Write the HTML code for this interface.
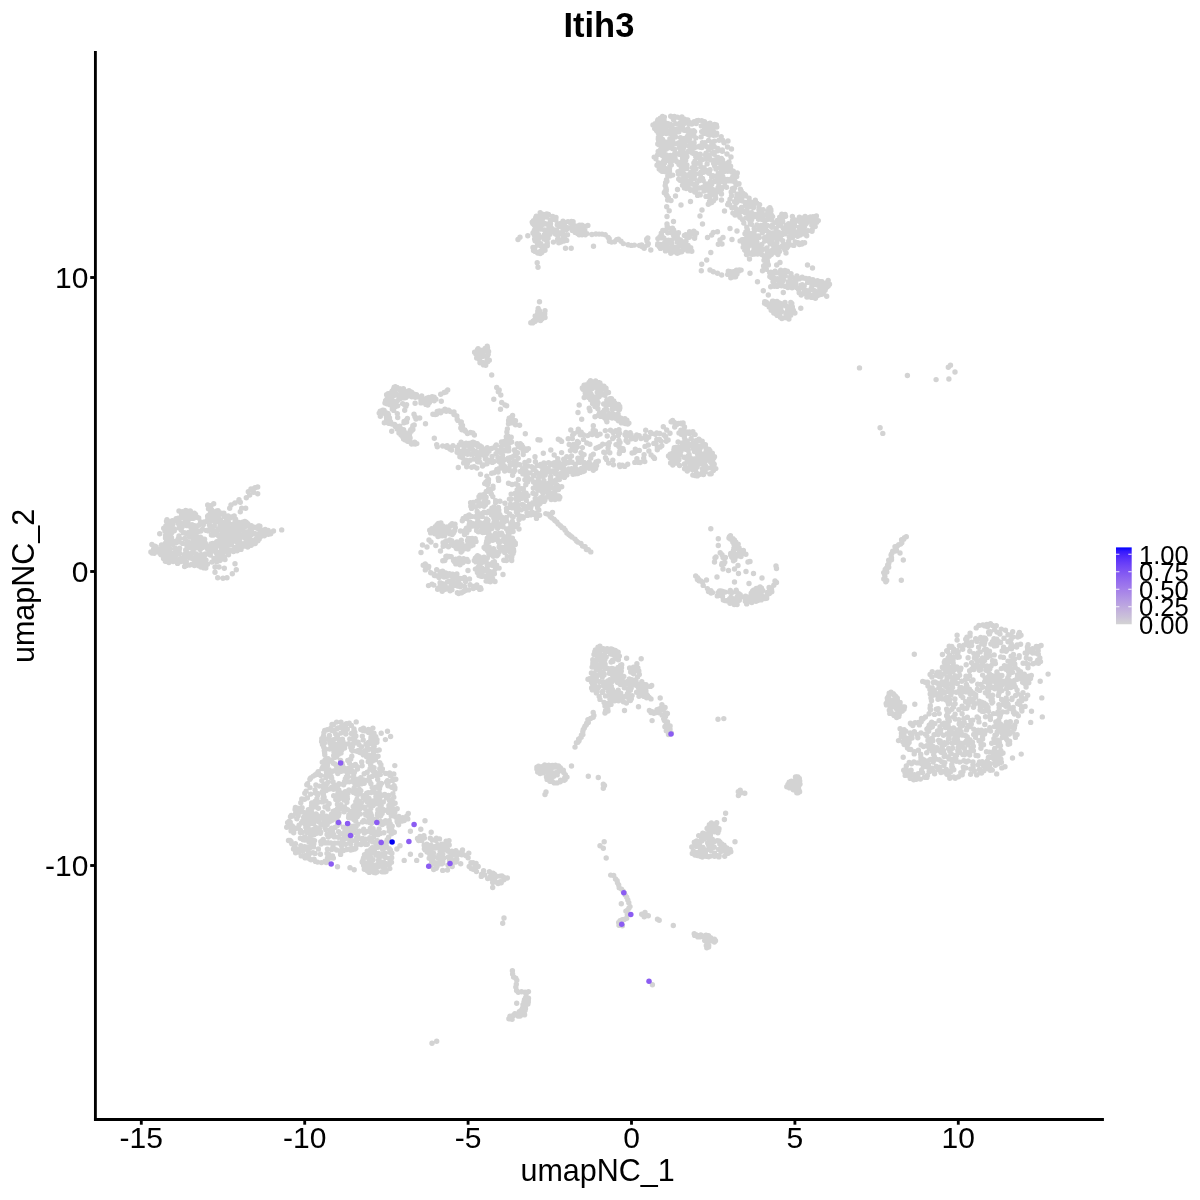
<!DOCTYPE html>
<html><head><meta charset="utf-8"><style>
html,body{margin:0;padding:0;background:#fff;}
svg{display:block;will-change:transform;}
text{font-family:"Liberation Sans",sans-serif;fill:#000;}
</style></head><body>
<svg width="1200" height="1200" viewBox="0 0 1200 1200">
<rect width="1200" height="1200" fill="#fff"/>
<path d="M662.5 116.4h0M670.7 116.3h0M664.4 117.1h0M672.6 117.4h0M674.4 116.5h0M675.5 117.1h0M677.4 117.1h0M681.9 116.9h0M660.3 118.2h0M679.8 118.0h0M681.6 119.1h0M684.0 119.0h0M658.0 119.7h0M664.0 120.0h0M673.6 119.8h0M686.3 120.0h0M687.8 120.0h0M698.4 120.5h0M657.5 121.0h0M696.9 120.7h0M701.7 120.6h0M659.9 121.8h0M682.7 121.7h0M684.1 121.9h0M685.7 122.2h0M694.1 121.7h0M704.5 121.8h0M659.1 123.1h0M660.7 122.8h0M665.9 123.1h0M679.9 123.3h0M681.9 123.0h0M690.5 122.9h0M693.4 123.0h0M710.0 123.2h0M655.1 123.6h0M668.1 123.7h0M670.5 124.5h0M675.7 123.6h0M678.1 124.2h0M680.9 124.2h0M683.6 124.1h0M688.8 124.1h0M691.9 124.1h0M696.2 123.5h0M707.8 124.0h0M714.6 124.5h0M653.0 125.0h0M659.0 124.7h0M664.1 125.5h0M716.4 124.9h0M669.7 125.8h0M701.3 125.9h0M706.1 126.1h0M708.2 125.6h0M710.2 126.0h0M713.5 126.4h0M656.3 126.7h0M661.4 127.1h0M663.8 126.8h0M671.9 126.6h0M680.6 127.3h0M707.4 126.7h0M711.2 126.8h0M716.8 127.0h0M665.4 128.2h0M682.7 127.9h0M654.7 128.6h0M659.4 129.1h0M676.3 129.4h0M687.9 128.9h0M704.6 129.0h0M656.5 130.4h0M664.4 130.5h0M672.0 130.0h0M674.9 129.5h0M684.1 130.2h0M708.8 130.0h0M712.3 130.2h0M661.0 131.4h0M662.3 131.3h0M667.9 130.6h0M691.2 131.0h0M693.6 130.6h0M713.3 131.1h0M666.9 132.1h0M674.1 131.7h0M678.9 131.8h0M687.8 131.6h0M691.6 132.4h0M693.2 132.3h0M694.6 131.6h0M701.7 131.6h0M704.9 131.6h0M658.2 132.7h0M660.4 133.3h0M662.7 133.4h0M670.0 133.4h0M704.7 133.2h0M710.6 133.1h0M716.7 133.3h0M666.3 133.5h0M674.9 134.4h0M707.6 134.2h0M660.8 135.3h0M672.3 135.3h0M689.1 134.7h0M690.0 135.4h0M693.8 135.4h0M709.4 135.3h0M713.6 135.2h0M716.1 135.1h0M687.6 136.2h0M658.4 137.2h0M673.1 137.0h0M675.5 136.9h0M701.1 136.9h0M721.2 136.6h0M680.5 137.6h0M684.4 138.4h0M686.6 138.4h0M689.8 138.2h0M695.8 137.9h0M658.3 139.0h0M662.6 139.4h0M669.9 138.6h0M658.6 140.3h0M672.7 139.9h0M682.5 140.3h0M684.7 139.9h0M688.4 139.6h0M708.6 140.4h0M719.1 140.2h0M722.6 140.3h0M669.2 141.5h0M681.2 140.8h0M714.4 141.3h0M728.0 141.0h0M660.6 141.9h0M662.0 141.6h0M663.8 141.7h0M666.0 142.2h0M672.7 141.6h0M685.7 141.6h0M712.6 141.9h0M670.0 143.2h0M678.4 143.0h0M681.2 142.7h0M690.7 143.0h0M694.1 142.8h0M702.4 142.8h0M705.0 142.6h0M724.0 142.8h0M657.8 144.0h0M667.9 143.5h0M675.3 143.7h0M685.2 143.9h0M703.6 143.5h0M711.8 144.2h0M658.9 144.7h0M660.5 145.3h0M666.6 144.6h0M705.0 144.7h0M669.6 146.2h0M671.2 146.4h0M682.6 146.4h0M688.7 146.1h0M691.9 146.1h0M699.3 146.2h0M714.2 146.5h0M662.1 146.6h0M696.1 146.9h0M700.2 147.2h0M707.1 146.7h0M711.5 147.3h0M727.5 147.0h0M670.3 147.7h0M679.3 147.6h0M683.6 147.7h0M694.4 147.7h0M701.9 147.6h0M717.8 148.4h0M666.4 149.0h0M672.9 148.8h0M680.5 149.1h0M690.7 148.8h0M692.3 149.0h0M708.7 149.3h0M731.5 149.0h0M660.8 149.6h0M674.7 149.5h0M722.3 149.9h0M658.2 151.5h0M662.2 151.4h0M664.1 151.0h0M688.0 151.5h0M692.1 151.0h0M717.7 150.7h0M722.3 151.3h0M680.5 152.3h0M690.9 152.0h0M713.6 152.3h0M683.4 152.5h0M684.6 152.9h0M692.3 152.9h0M695.9 153.4h0M706.0 153.3h0M712.4 152.9h0M664.7 154.2h0M674.8 153.5h0M676.0 153.5h0M679.1 154.3h0M694.0 153.8h0M700.2 154.3h0M714.2 154.3h0M727.0 154.0h0M657.7 154.8h0M662.3 155.5h0M666.4 154.9h0M670.4 155.4h0M681.3 154.7h0M686.1 154.8h0M705.4 154.9h0M709.1 154.9h0M664.0 155.9h0M669.2 156.2h0M674.7 156.2h0M682.7 155.7h0M695.7 156.5h0M700.0 155.8h0M654.2 157.1h0M665.7 156.9h0M686.9 156.8h0M709.3 157.1h0M717.9 157.4h0M731.0 157.0h0M664.2 157.6h0M668.4 158.1h0M673.1 158.4h0M675.1 158.4h0M682.6 158.1h0M696.6 157.5h0M655.9 158.8h0M665.1 159.3h0M671.1 158.7h0M706.1 159.0h0M708.7 158.6h0M721.4 158.5h0M667.1 160.3h0M683.9 159.8h0M685.7 160.3h0M700.5 159.7h0M702.7 159.6h0M710.9 159.9h0M715.3 159.7h0M718.0 160.4h0M722.5 159.9h0M671.7 161.0h0M694.9 161.3h0M663.3 161.5h0M670.2 162.0h0M676.7 161.5h0M677.7 162.3h0M680.1 162.5h0M681.5 161.6h0M684.5 162.2h0M713.7 161.7h0M729.0 162.0h0M658.5 162.9h0M664.5 162.9h0M693.9 163.0h0M696.9 163.2h0M700.1 163.3h0M713.7 163.4h0M720.0 163.0h0M722.8 162.6h0M727.4 163.3h0M661.3 164.0h0M680.1 164.2h0M707.1 163.9h0M715.4 163.5h0M723.8 164.4h0M657.0 165.2h0M663.6 164.6h0M671.3 165.1h0M679.0 164.6h0M686.9 164.9h0M721.2 164.8h0M669.8 166.1h0M683.5 165.6h0M714.7 165.9h0M728.2 165.7h0M730.6 166.2h0M694.3 166.7h0M701.0 166.7h0M660.2 167.8h0M664.9 168.3h0M681.3 168.2h0M692.3 167.6h0M704.1 168.0h0M719.7 167.7h0M726.5 168.0h0M659.2 169.0h0M661.8 169.2h0M669.5 168.6h0M686.9 168.5h0M693.1 168.8h0M696.0 168.8h0M715.9 169.0h0M721.0 169.0h0M722.7 168.5h0M728.7 169.1h0M660.6 170.3h0M664.3 170.3h0M683.0 170.0h0M710.1 169.6h0M723.7 170.5h0M731.1 170.2h0M662.0 171.2h0M663.3 171.2h0M667.1 171.0h0M669.5 170.9h0M707.0 170.6h0M724.4 171.5h0M727.8 171.3h0M730.0 171.1h0M733.3 171.3h0M666.2 172.1h0M678.0 171.6h0M679.6 171.6h0M694.3 171.6h0M701.1 172.0h0M703.6 172.3h0M707.3 171.9h0M709.3 172.0h0M720.9 172.1h0M732.1 172.3h0M690.8 172.5h0M708.8 173.2h0M734.6 172.7h0M737.3 172.9h0M667.9 173.6h0M678.5 174.0h0M681.8 174.3h0M684.0 173.8h0M689.8 173.6h0M699.1 173.7h0M718.2 173.6h0M672.7 175.1h0M685.0 174.8h0M692.2 175.2h0M694.4 175.4h0M700.4 174.8h0M718.5 174.8h0M734.7 175.2h0M667.8 176.0h0M670.4 175.7h0M687.3 176.2h0M690.8 176.4h0M712.9 175.7h0M715.7 176.1h0M722.7 176.4h0M736.7 176.4h0M711.7 177.0h0M717.7 177.5h0M732.7 176.9h0M684.6 178.1h0M694.3 178.4h0M702.5 178.4h0M722.9 178.1h0M678.7 179.1h0M699.8 179.4h0M721.2 179.4h0M724.9 179.3h0M727.7 179.4h0M730.6 179.2h0M666.5 179.8h0M680.0 180.2h0M681.5 179.8h0M691.2 180.1h0M666.9 181.2h0M688.1 181.4h0M699.1 180.8h0M703.2 180.6h0M710.6 181.3h0M715.7 181.0h0M717.3 180.9h0M721.5 181.2h0M725.4 181.4h0M729.2 180.9h0M732.3 181.0h0M735.0 181.1h0M686.1 182.4h0M714.6 181.6h0M665.6 182.8h0M683.7 183.3h0M690.3 182.7h0M696.6 183.2h0M724.7 182.7h0M735.5 182.7h0M693.2 184.2h0M707.1 184.0h0M711.6 184.5h0M737.5 184.2h0M739.0 183.8h0M682.5 185.3h0M684.1 185.4h0M705.3 184.5h0M718.8 185.3h0M665.2 185.6h0M688.1 185.6h0M695.8 185.8h0M705.8 185.7h0M724.7 186.1h0M703.0 187.2h0M726.5 187.2h0M666.0 188.3h0M684.4 187.9h0M686.2 188.5h0M699.5 188.0h0M704.2 187.6h0M707.6 188.2h0M709.3 188.0h0M717.9 187.9h0M721.7 187.9h0M734.6 187.7h0M689.4 188.6h0M694.3 189.1h0M732.3 188.7h0M740.4 189.1h0M666.3 189.6h0M677.5 189.5h0M690.6 190.3h0M695.7 190.0h0M707.0 190.1h0M712.8 189.5h0M714.5 190.4h0M721.3 189.8h0M733.5 190.3h0M666.2 190.9h0M704.0 191.1h0M716.1 191.0h0M718.1 190.9h0M719.5 190.8h0M741.2 190.9h0M665.0 191.5h0M694.8 192.1h0M710.0 192.1h0M714.0 192.4h0M717.2 192.0h0M731.2 191.9h0M664.3 192.8h0M743.2 193.4h0M699.2 193.9h0M721.5 194.0h0M736.9 194.3h0M738.2 194.2h0M666.5 195.0h0M697.6 195.4h0M700.2 194.9h0M709.9 194.8h0M713.1 194.8h0M745.1 194.7h0M667.2 196.0h0M675.5 196.0h0M706.0 196.4h0M708.8 196.0h0M715.3 195.7h0M731.5 195.8h0M737.2 195.7h0M745.7 195.8h0M709.6 197.3h0M738.4 196.8h0M742.5 196.5h0M668.5 198.0h0M715.7 198.2h0M736.5 198.1h0M749.1 198.1h0M730.0 199.1h0M667.7 200.0h0M671.0 200.5h0M721.5 200.0h0M739.8 200.1h0M755.3 200.2h0M709.5 201.5h0M713.5 200.8h0M741.9 200.8h0M749.1 201.4h0M690.5 201.5h0M711.7 202.5h0M734.6 201.8h0M737.2 201.8h0M750.5 202.0h0M710.2 202.9h0M728.6 202.9h0M736.1 203.1h0M745.1 202.5h0M754.5 202.5h0M756.9 203.1h0M708.3 204.2h0M745.4 203.8h0M681.0 205.0h0M727.7 204.6h0M729.7 204.9h0M753.4 204.6h0M759.6 204.6h0M746.2 206.1h0M747.9 206.0h0M753.7 205.9h0M666.7 206.7h0M734.8 206.9h0M741.5 207.4h0M749.1 206.9h0M731.9 207.7h0M753.4 207.8h0M759.0 207.9h0M769.9 207.7h0M736.5 209.2h0M768.8 208.8h0M770.8 209.5h0M702.0 210.0h0M740.7 210.3h0M746.6 210.1h0M758.9 209.8h0M763.1 209.6h0M669.2 210.8h0M724.5 211.0h0M742.4 211.3h0M767.8 211.1h0M770.9 210.9h0M736.6 211.6h0M744.9 212.5h0M746.8 211.7h0M761.8 212.2h0M540.2 212.6h0M732.9 213.1h0M735.9 212.9h0M749.5 212.9h0M751.4 212.7h0M758.8 213.3h0M541.2 214.1h0M543.3 214.5h0M546.7 213.9h0M748.3 214.0h0M754.7 214.5h0M781.8 214.3h0M785.1 214.4h0M545.7 215.4h0M548.5 214.5h0M735.0 215.0h0M738.0 215.0h0M739.2 215.4h0M758.3 214.8h0M762.3 214.7h0M764.4 214.6h0M769.1 215.5h0M771.5 215.1h0M536.3 216.3h0M552.7 216.4h0M667.0 216.5h0M700.0 216.0h0M749.1 215.6h0M752.4 215.7h0M755.8 215.5h0M785.6 216.2h0M792.4 216.4h0M805.1 216.4h0M816.4 215.9h0M540.3 216.6h0M547.1 217.1h0M556.0 217.5h0M740.0 217.3h0M753.9 216.8h0M772.6 216.6h0M779.7 217.1h0M782.2 216.5h0M783.6 216.9h0M799.4 217.3h0M810.4 217.0h0M813.0 216.6h0M535.6 217.9h0M543.2 217.7h0M745.9 217.9h0M768.1 217.7h0M801.4 217.9h0M804.4 217.6h0M806.9 217.8h0M816.0 218.0h0M538.0 218.8h0M540.4 219.2h0M542.4 219.1h0M748.8 218.9h0M758.5 219.2h0M761.5 219.3h0M768.1 219.3h0M811.5 219.2h0M536.0 220.5h0M550.4 220.3h0M552.2 219.6h0M555.8 220.0h0M742.4 219.6h0M751.6 219.8h0M763.7 219.6h0M771.6 219.7h0M777.3 220.4h0M795.0 219.9h0M803.4 220.3h0M807.4 220.4h0M533.5 220.8h0M563.0 221.2h0M750.1 220.8h0M779.3 221.5h0M782.7 221.5h0M792.5 220.8h0M797.1 220.8h0M804.9 221.3h0M809.4 221.0h0M815.7 220.8h0M818.3 220.6h0M532.2 222.1h0M568.0 221.6h0M571.5 221.5h0M573.1 221.8h0M673.5 221.5h0M794.2 222.4h0M800.5 222.2h0M811.1 221.8h0M816.8 222.2h0M532.8 223.4h0M538.0 223.5h0M543.9 223.2h0M570.1 222.6h0M743.8 223.0h0M750.3 223.0h0M764.8 223.3h0M774.9 222.6h0M801.4 223.0h0M813.0 223.3h0M541.7 224.2h0M543.2 224.3h0M546.6 224.0h0M550.5 223.6h0M559.8 223.8h0M561.0 224.1h0M564.4 223.6h0M573.2 223.9h0M667.0 224.0h0M702.5 224.0h0M751.4 224.2h0M778.5 223.9h0M788.6 223.8h0M790.4 223.7h0M794.4 224.1h0M806.3 223.5h0M534.1 224.7h0M557.3 224.7h0M579.5 225.2h0M582.0 225.2h0M587.9 225.4h0M756.9 224.9h0M761.0 225.5h0M767.3 225.4h0M772.3 225.2h0M786.4 225.2h0M811.8 225.3h0M537.2 226.2h0M539.5 225.7h0M550.3 225.6h0M560.1 226.2h0M564.4 226.3h0M577.7 226.0h0M582.9 226.3h0M585.9 226.3h0M667.2 226.0h0M764.6 225.9h0M780.8 225.8h0M791.8 226.1h0M794.7 226.2h0M804.7 226.3h0M584.3 227.4h0M746.8 227.2h0M762.3 226.6h0M771.8 227.3h0M787.1 226.9h0M790.0 227.5h0M799.3 227.3h0M803.3 226.8h0M815.2 226.6h0M535.3 228.3h0M548.9 228.0h0M562.9 228.5h0M567.6 227.7h0M569.3 227.8h0M572.5 227.7h0M668.1 227.7h0M672.5 228.2h0M730.0 228.5h0M754.2 228.5h0M763.3 227.8h0M776.2 228.5h0M783.3 228.2h0M793.4 227.8h0M539.5 229.1h0M541.5 229.1h0M552.1 228.8h0M576.5 229.3h0M759.1 229.5h0M534.4 230.2h0M544.5 230.0h0M548.2 230.2h0M550.0 229.6h0M554.2 230.0h0M556.6 230.0h0M566.5 229.6h0M572.3 230.4h0M581.6 229.8h0M662.8 230.5h0M665.0 230.2h0M673.6 229.9h0M747.5 230.0h0M754.8 230.3h0M764.8 230.4h0M766.5 230.5h0M776.1 229.7h0M801.4 229.8h0M804.2 230.4h0M812.2 230.0h0M536.3 231.3h0M552.0 231.4h0M556.0 231.4h0M584.8 230.5h0M672.1 230.7h0M693.8 231.3h0M737.0 231.0h0M786.9 231.5h0M789.4 231.1h0M793.7 231.0h0M805.3 231.3h0M808.0 230.8h0M812.0 231.3h0M533.9 231.8h0M547.6 231.6h0M550.4 231.9h0M553.2 231.7h0M562.8 231.7h0M575.2 232.4h0M576.5 232.0h0M579.0 232.5h0M689.6 231.8h0M713.3 232.5h0M717.5 231.7h0M746.0 231.8h0M753.9 232.4h0M768.6 232.3h0M778.5 232.2h0M788.8 232.3h0M791.1 231.9h0M797.8 231.7h0M533.0 232.9h0M536.7 233.1h0M559.9 232.9h0M661.3 233.1h0M667.8 232.7h0M671.7 232.8h0M675.5 233.0h0M678.5 232.8h0M696.5 233.1h0M762.3 232.8h0M772.3 233.0h0M776.1 232.8h0M779.1 233.2h0M782.3 233.1h0M790.2 233.2h0M804.2 232.6h0M549.9 234.3h0M555.5 234.1h0M561.6 234.1h0M577.6 233.5h0M586.9 233.6h0M595.9 234.0h0M599.1 234.1h0M602.0 234.1h0M675.6 234.4h0M745.0 233.8h0M748.4 234.5h0M750.7 233.7h0M753.4 234.2h0M770.0 234.1h0M774.1 233.6h0M777.4 233.6h0M785.0 233.9h0M794.6 234.2h0M803.9 233.8h0M534.4 235.0h0M538.6 234.6h0M544.4 234.8h0M557.7 235.5h0M563.1 235.4h0M567.5 234.7h0M579.1 234.8h0M582.1 234.7h0M585.4 234.7h0M591.9 234.5h0M605.2 234.7h0M661.5 234.7h0M673.5 235.0h0M684.4 235.4h0M685.8 234.8h0M690.1 234.6h0M711.7 235.0h0M780.3 234.8h0M782.5 234.6h0M800.2 235.0h0M527.8 235.8h0M547.6 236.3h0M677.3 236.1h0M694.8 235.9h0M748.4 236.1h0M754.1 236.0h0M756.8 236.1h0M758.4 235.9h0M768.0 236.1h0M771.0 236.3h0M797.6 236.2h0M806.7 235.7h0M520.0 237.2h0M539.9 237.0h0M564.0 237.3h0M659.9 236.7h0M662.3 236.9h0M689.3 237.3h0M746.8 236.9h0M759.2 237.4h0M765.6 237.1h0M774.6 237.1h0M789.3 237.0h0M538.9 237.7h0M548.1 238.2h0M608.2 237.5h0M647.8 238.0h0M661.1 237.9h0M663.9 238.3h0M674.0 238.1h0M686.9 237.8h0M694.6 238.3h0M707.5 237.5h0M723.0 237.5h0M749.6 238.1h0M754.4 237.6h0M764.4 237.9h0M792.4 237.6h0M534.6 239.0h0M538.3 239.5h0M544.0 239.0h0M545.3 239.5h0M557.6 239.5h0M609.2 238.8h0M618.4 239.2h0M646.7 239.2h0M657.9 238.6h0M678.1 239.1h0M745.9 238.7h0M748.6 238.8h0M751.1 239.2h0M767.1 238.7h0M772.1 239.3h0M776.7 238.7h0M780.7 239.1h0M518.0 239.5h0M560.4 239.9h0M566.7 240.4h0M616.7 239.6h0M668.5 240.1h0M671.5 240.3h0M680.4 240.0h0M720.0 240.0h0M732.0 239.5h0M742.1 239.6h0M744.0 239.5h0M752.9 240.4h0M770.2 240.3h0M535.1 240.8h0M563.9 241.1h0M609.4 241.3h0M621.0 241.2h0M647.0 241.0h0M666.8 241.3h0M681.9 241.5h0M686.0 241.2h0M740.1 240.9h0M746.9 240.7h0M764.7 241.1h0M768.9 240.8h0M782.7 240.7h0M788.7 241.1h0M547.2 242.3h0M553.4 242.1h0M560.9 242.0h0M611.6 242.1h0M614.6 241.7h0M665.5 241.7h0M668.0 241.9h0M670.7 242.1h0M677.2 242.3h0M746.8 242.0h0M754.3 241.6h0M756.9 242.0h0M795.2 242.0h0M558.8 242.7h0M664.6 242.9h0M743.4 243.1h0M751.2 242.7h0M769.8 242.6h0M776.9 242.8h0M798.0 242.8h0M802.5 242.7h0M804.6 242.7h0M537.4 243.8h0M540.7 243.6h0M547.3 243.8h0M623.3 243.6h0M648.3 243.7h0M657.8 243.6h0M660.8 244.4h0M671.7 243.8h0M718.3 244.2h0M722.0 244.0h0M744.6 243.5h0M747.9 243.7h0M761.8 244.5h0M770.3 243.7h0M773.9 243.7h0M786.8 244.5h0M799.4 244.5h0M801.9 244.0h0M538.5 245.0h0M628.1 244.7h0M631.4 245.4h0M634.4 245.1h0M639.5 245.5h0M641.7 245.0h0M647.6 245.0h0M657.6 245.1h0M666.6 245.3h0M683.5 245.3h0M688.1 245.5h0M749.9 244.8h0M751.9 245.1h0M753.6 244.7h0M756.5 245.2h0M782.9 245.3h0M790.4 244.9h0M793.8 245.4h0M541.4 246.2h0M543.0 246.0h0M545.5 246.0h0M547.3 245.8h0M593.5 246.2h0M679.8 245.8h0M773.8 246.2h0M784.6 246.0h0M642.3 246.8h0M644.3 247.0h0M659.4 246.7h0M662.0 247.3h0M663.5 247.4h0M671.7 246.7h0M674.9 247.4h0M683.8 247.3h0M743.2 247.2h0M748.2 246.6h0M754.4 247.1h0M758.5 246.6h0M776.7 247.4h0M781.6 246.5h0M783.5 247.4h0M787.4 246.9h0M533.0 247.5h0M534.7 247.8h0M565.5 248.2h0M571.2 248.2h0M644.2 248.3h0M660.5 248.4h0M668.6 248.0h0M676.5 247.6h0M684.7 248.5h0M690.7 247.8h0M744.9 248.4h0M757.2 248.4h0M767.0 248.0h0M778.9 247.8h0M786.5 248.3h0M543.9 249.5h0M673.0 248.7h0M689.2 249.4h0M747.4 249.0h0M754.0 249.3h0M765.6 249.0h0M774.0 249.5h0M777.1 248.9h0M784.5 248.6h0M545.0 250.3h0M650.8 250.0h0M667.9 249.8h0M682.9 250.1h0M744.7 249.9h0M758.0 250.0h0M762.6 249.5h0M772.5 249.9h0M784.9 249.8h0M533.5 250.6h0M535.1 251.4h0M541.6 250.6h0M665.5 250.9h0M672.9 250.6h0M679.5 251.1h0M687.9 250.9h0M689.6 250.7h0M691.8 251.2h0M745.7 250.7h0M768.0 251.2h0M774.2 250.8h0M539.1 252.0h0M670.5 251.7h0M673.9 251.9h0M675.6 252.0h0M681.7 251.8h0M710.8 252.5h0M752.5 252.4h0M754.4 251.7h0M770.8 251.8h0M777.9 251.5h0M779.4 251.5h0M537.7 253.1h0M541.8 252.6h0M670.8 253.2h0M677.3 253.4h0M678.5 252.7h0M748.5 253.3h0M749.9 253.3h0M755.9 253.3h0M761.1 252.9h0M767.4 253.1h0M776.2 252.8h0M786.0 253.0h0M540.2 253.5h0M746.5 254.5h0M752.4 254.2h0M754.5 254.0h0M757.6 254.1h0M761.9 254.4h0M771.3 254.4h0M778.0 254.5h0M764.0 256.0h0M769.2 256.3h0M749.5 259.0h0M706.7 260.0h0M764.0 260.3h0M765.6 259.8h0M767.3 260.4h0M766.3 262.2h0M780.0 262.5h0M537.2 262.8h0M767.6 262.6h0M701.7 264.2h0M765.3 264.1h0M768.4 264.9h0M776.7 265.0h0M807.5 265.0h0M763.6 265.9h0M538.0 267.2h0M812.5 268.0h0M766.3 269.2h0M710.0 270.0h0M736.4 270.1h0M739.3 269.9h0M741.1 270.1h0M780.7 270.3h0M784.9 270.4h0M701.3 270.8h0M728.3 271.2h0M738.6 271.2h0M762.5 270.8h0M775.1 271.2h0M782.1 271.4h0M787.4 271.2h0M713.3 271.7h0M730.5 271.8h0M731.8 272.3h0M733.4 271.7h0M734.8 271.5h0M737.2 271.9h0M770.8 272.2h0M773.0 272.4h0M785.3 272.1h0M717.5 273.3h0M750.0 273.3h0M769.7 272.8h0M776.8 272.8h0M783.7 273.1h0M727.7 274.4h0M732.5 273.7h0M734.7 274.2h0M737.0 273.9h0M773.1 273.8h0M780.7 274.3h0M791.0 273.8h0M721.7 275.0h0M785.2 275.8h0M796.9 275.9h0M731.9 276.8h0M733.8 276.9h0M735.6 276.7h0M769.8 276.6h0M773.5 277.5h0M789.9 277.5h0M791.5 276.7h0M796.5 277.5h0M802.2 277.1h0M730.8 277.8h0M771.1 277.5h0M781.0 277.6h0M803.1 278.1h0M777.2 278.8h0M783.8 279.3h0M795.3 279.0h0M799.3 278.9h0M805.9 278.5h0M809.1 278.6h0M774.4 280.2h0M778.9 279.9h0M809.0 280.3h0M812.9 279.8h0M782.7 281.0h0M789.9 280.6h0M795.9 280.8h0M816.1 281.3h0M817.5 280.6h0M828.2 280.5h0M757.5 281.7h0M773.0 281.8h0M788.3 282.0h0M792.8 282.2h0M807.6 282.4h0M811.5 282.3h0M814.9 281.8h0M820.5 281.7h0M822.0 281.7h0M827.1 282.4h0M779.6 283.2h0M781.5 282.9h0M791.3 283.2h0M774.4 283.8h0M788.8 284.3h0M795.8 283.6h0M829.5 284.2h0M776.5 284.8h0M801.1 285.2h0M802.2 284.7h0M813.2 284.8h0M817.1 284.9h0M821.2 284.9h0M824.2 285.5h0M774.2 286.3h0M777.1 286.4h0M781.5 285.8h0M784.9 286.2h0M788.3 285.9h0M789.8 285.6h0M795.2 285.9h0M804.2 285.8h0M811.9 286.0h0M821.8 286.3h0M828.2 286.0h0M770.7 286.8h0M789.2 286.7h0M796.5 287.5h0M827.2 286.8h0M787.9 287.5h0M792.1 287.8h0M803.0 288.0h0M811.7 287.5h0M819.8 288.3h0M824.6 288.3h0M825.9 287.9h0M798.6 289.4h0M804.2 289.2h0M810.9 289.2h0M820.8 289.5h0M823.0 289.6h0M825.2 289.9h0M763.3 290.8h0M805.6 291.0h0M806.9 290.8h0M814.6 290.8h0M823.9 291.4h0M783.3 292.5h0M816.6 292.0h0M820.9 291.7h0M799.2 292.7h0M804.9 293.2h0M801.2 293.7h0M809.0 293.8h0M817.0 294.1h0M821.1 294.4h0M823.2 293.8h0M768.3 295.0h0M801.2 295.1h0M814.0 294.8h0M819.4 294.8h0M812.5 295.5h0M817.4 295.7h0M826.7 296.3h0M806.9 297.0h0M809.6 296.8h0M811.7 297.4h0M813.7 297.3h0M815.4 296.8h0M815.4 298.3h0M772.5 301.1h0M773.9 301.4h0M777.0 301.4h0M539.5 301.8h0M764.7 301.6h0M766.3 302.2h0M775.2 301.9h0M785.0 302.4h0M790.8 302.5h0M764.5 303.2h0M773.6 302.8h0M778.8 302.7h0M766.3 304.2h0M768.0 303.8h0M772.4 303.8h0M776.0 304.4h0M780.4 303.8h0M781.6 304.0h0M783.5 304.4h0M791.8 303.5h0M786.0 306.0h0M790.7 305.8h0M769.2 306.9h0M792.4 307.0h0M538.2 308.5h0M770.5 307.8h0M777.9 308.5h0M780.9 307.7h0M800.8 308.3h0M773.9 308.7h0M787.7 309.1h0M791.3 309.3h0M771.2 310.3h0M777.7 310.3h0M793.3 310.1h0M537.8 311.3h0M539.4 310.7h0M545.0 310.8h0M773.1 310.6h0M780.4 311.1h0M781.6 311.4h0M774.4 312.0h0M775.8 311.8h0M780.3 312.4h0M786.5 312.5h0M790.0 312.4h0M537.7 313.5h0M539.0 313.0h0M773.8 313.1h0M792.3 313.1h0M794.9 313.0h0M542.0 314.5h0M544.7 313.7h0M775.8 313.7h0M789.0 314.4h0M777.2 315.4h0M779.9 315.4h0M786.0 314.8h0M787.5 314.7h0M790.7 315.3h0M535.2 316.0h0M537.8 316.1h0M542.4 316.2h0M544.5 315.6h0M536.1 316.9h0M780.4 317.2h0M538.7 317.7h0M539.8 318.4h0M545.0 317.5h0M785.3 317.6h0M535.4 319.4h0M541.8 319.0h0M781.9 318.5h0M788.9 319.0h0M534.3 320.3h0M537.3 319.7h0M540.5 320.5h0M533.0 321.2h0M534.9 321.5h0M530.8 322.8h0M532.6 322.9h0M487.2 346.3h0M485.1 348.4h0M487.5 347.8h0M478.1 348.7h0M477.5 349.8h0M480.5 350.3h0M482.7 350.1h0M487.5 350.2h0M483.5 351.3h0M488.6 351.4h0M474.6 352.3h0M476.1 352.1h0M481.5 353.3h0M475.9 353.9h0M477.8 353.9h0M488.2 354.3h0M476.9 355.1h0M481.2 355.2h0M483.3 355.3h0M479.2 355.8h0M482.4 356.4h0M487.5 355.6h0M476.7 358.0h0M478.3 358.0h0M487.1 357.7h0M479.5 359.4h0M487.1 360.3h0M489.3 360.3h0M482.1 362.2h0M487.7 361.8h0M480.0 362.8h0M483.2 362.9h0M483.6 364.9h0M485.7 365.3h0M950.5 365.2h0M948.3 367.3h0M859.5 367.9h0M955.0 372.0h0M491.7 375.0h0M907.4 375.5h0M948.9 379.0h0M936.1 379.6h0M590.5 380.7h0M595.6 380.9h0M592.2 382.0h0M589.1 382.5h0M598.7 382.8h0M599.9 382.9h0M593.5 383.7h0M599.9 384.2h0M584.1 385.3h0M586.5 384.7h0M590.3 385.4h0M596.7 385.4h0M598.2 384.9h0M601.0 385.4h0M588.1 385.9h0M592.0 386.2h0M603.9 386.1h0M394.2 387.2h0M395.3 386.6h0M594.3 387.1h0M596.6 386.7h0M602.8 387.5h0M604.8 387.4h0M397.0 387.5h0M496.7 387.5h0M582.3 387.9h0M592.3 388.5h0M597.3 388.0h0M606.0 388.1h0M393.5 389.3h0M396.2 388.9h0M399.2 388.7h0M400.8 389.0h0M403.4 388.8h0M583.0 389.3h0M584.8 388.6h0M604.7 389.1h0M400.0 390.3h0M404.0 390.2h0M447.7 390.0h0M499.2 390.0h0M586.0 389.6h0M587.2 389.7h0M599.4 390.3h0M606.1 390.1h0M392.1 391.2h0M393.4 391.0h0M409.0 390.7h0M590.0 390.9h0M405.4 392.2h0M409.6 391.8h0M411.6 392.1h0M444.2 392.5h0M446.0 392.0h0M498.3 391.7h0M597.2 392.2h0M600.3 391.5h0M390.4 393.1h0M401.0 393.3h0M585.2 393.0h0M608.5 392.5h0M388.1 393.7h0M389.5 394.4h0M395.8 393.9h0M406.1 394.3h0M414.2 394.2h0M440.7 394.3h0M590.8 393.6h0M604.3 393.9h0M386.6 394.8h0M403.6 394.5h0M408.8 394.6h0M416.5 394.8h0M500.8 395.0h0M587.7 394.9h0M597.9 394.5h0M600.7 395.2h0M605.0 395.3h0M392.1 396.5h0M394.0 395.6h0M402.1 395.6h0M408.9 395.8h0M421.7 395.9h0M592.1 395.7h0M398.9 396.9h0M411.8 396.8h0M413.7 396.6h0M415.3 397.3h0M417.1 396.9h0M428.8 397.5h0M432.1 396.8h0M434.2 397.1h0M591.0 396.9h0M594.1 397.3h0M599.0 396.8h0M403.0 397.9h0M404.2 397.9h0M405.9 397.6h0M427.2 398.0h0M584.2 397.5h0M588.7 397.6h0M594.7 398.4h0M386.7 399.5h0M388.8 399.2h0M390.8 398.8h0M399.9 398.8h0M421.1 399.3h0M423.0 398.8h0M435.9 399.3h0M493.8 399.2h0M609.1 399.4h0M610.1 398.6h0M611.5 398.7h0M427.8 399.7h0M590.6 399.8h0M597.1 400.0h0M606.8 400.1h0M385.6 400.7h0M392.7 400.6h0M397.6 400.6h0M421.0 400.8h0M430.4 400.6h0M434.2 400.8h0M441.3 401.3h0M613.7 400.9h0M387.3 402.3h0M390.6 401.5h0M393.6 402.3h0M423.2 402.0h0M501.7 402.5h0M593.1 402.3h0M607.6 401.9h0M385.0 403.0h0M415.1 403.3h0M421.0 402.9h0M429.4 402.6h0M598.0 402.7h0M612.8 403.2h0M615.0 403.2h0M386.9 403.7h0M402.7 403.6h0M425.9 404.4h0M428.4 403.5h0M592.6 403.5h0M595.0 403.7h0M603.7 404.0h0M608.1 404.4h0M617.0 404.4h0M618.5 404.5h0M389.8 404.7h0M394.6 404.6h0M404.9 405.3h0M406.6 404.6h0M427.8 405.1h0M505.0 405.0h0M579.2 405.0h0M597.3 404.7h0M613.8 404.5h0M392.7 406.3h0M397.7 405.8h0M405.9 406.3h0M506.7 405.8h0M612.2 405.7h0M619.7 406.4h0M395.7 406.5h0M594.9 406.6h0M596.7 406.8h0M589.2 408.3h0M606.1 408.3h0M612.5 408.0h0M614.5 408.1h0M619.8 407.9h0M392.3 409.3h0M444.9 409.1h0M500.5 409.2h0M597.9 408.8h0M612.6 409.4h0M617.2 408.7h0M382.7 410.3h0M384.1 410.5h0M393.7 410.4h0M404.7 410.3h0M446.3 409.9h0M448.6 410.3h0M604.3 410.2h0M607.1 410.0h0M619.4 409.6h0M380.2 411.1h0M437.2 411.5h0M439.4 411.0h0M442.4 411.0h0M444.3 410.6h0M446.2 411.2h0M590.0 410.8h0M384.5 411.7h0M450.4 411.6h0M454.0 411.9h0M578.0 412.5h0M602.6 412.4h0M379.2 413.1h0M383.1 412.8h0M386.6 413.0h0M387.9 413.4h0M440.7 412.8h0M599.5 413.0h0M604.0 412.8h0M385.6 414.2h0M397.3 413.6h0M414.0 414.3h0M432.9 414.2h0M436.5 414.2h0M454.0 414.5h0M603.8 414.3h0M609.7 413.9h0M612.1 414.2h0M614.0 414.5h0M618.1 413.9h0M388.5 415.0h0M435.2 414.5h0M512.6 415.4h0M598.2 415.4h0M601.8 415.4h0M380.3 416.3h0M456.8 416.0h0M600.7 416.4h0M607.1 415.9h0M615.6 416.3h0M386.5 416.8h0M397.7 417.5h0M415.0 416.7h0M511.0 417.4h0M595.0 416.7h0M618.9 417.4h0M389.5 417.9h0M419.7 418.0h0M509.2 418.3h0M512.2 417.9h0M604.6 417.8h0M607.7 417.8h0M612.1 418.1h0M621.0 418.3h0M386.6 419.2h0M407.4 418.5h0M416.0 419.0h0M457.2 419.2h0M581.7 419.2h0M605.6 418.7h0M616.4 418.8h0M621.7 419.5h0M624.9 418.8h0M388.4 419.9h0M406.7 420.0h0M457.9 420.4h0M606.4 420.2h0M617.6 419.5h0M626.9 420.3h0M672.6 420.4h0M386.9 421.3h0M389.8 420.7h0M404.1 421.4h0M508.6 420.5h0M513.7 421.1h0M515.5 420.7h0M618.5 420.7h0M619.8 420.8h0M622.2 421.2h0M390.6 421.9h0M406.6 422.0h0M461.3 422.0h0M606.9 421.7h0M627.4 422.4h0M671.1 421.8h0M674.3 422.4h0M384.3 422.7h0M388.6 423.2h0M404.0 422.7h0M460.9 423.4h0M510.6 422.7h0M512.1 422.8h0M621.5 422.9h0M622.7 422.6h0M628.9 423.1h0M678.3 423.4h0M680.9 423.2h0M683.1 422.9h0M390.3 423.6h0M392.0 424.0h0M425.5 423.7h0M508.5 423.7h0M625.1 423.6h0M627.8 424.1h0M682.1 423.9h0M394.6 424.5h0M414.2 425.0h0M462.5 425.4h0M515.5 424.8h0M519.6 425.3h0M676.5 424.7h0M395.3 426.4h0M396.5 426.2h0M399.7 426.3h0M412.9 425.6h0M593.3 425.8h0M663.3 426.7h0M674.7 427.0h0M684.5 427.0h0M400.2 427.9h0M412.5 427.7h0M460.8 428.0h0M880.1 427.7h0M397.2 428.9h0M412.9 429.5h0M507.4 428.9h0M578.3 429.2h0M400.3 430.5h0M403.6 429.6h0M410.8 429.6h0M461.9 429.7h0M464.7 429.9h0M570.8 430.0h0M593.2 430.2h0M610.5 430.2h0M619.0 429.6h0M645.7 430.2h0M666.7 430.0h0M680.9 430.2h0M391.7 431.3h0M401.8 431.3h0M410.1 431.2h0M411.3 431.3h0M465.5 431.3h0M577.9 431.5h0M595.4 430.9h0M605.3 430.6h0M615.8 430.8h0M403.6 431.7h0M404.8 432.4h0M506.9 432.0h0M581.2 432.3h0M614.7 431.8h0M681.9 431.7h0M685.3 432.2h0M686.6 432.0h0M689.2 431.9h0M692.9 431.7h0M399.0 432.9h0M402.4 432.5h0M470.5 432.5h0M472.8 432.9h0M613.1 432.5h0M619.6 433.1h0M625.9 432.5h0M630.2 432.8h0M650.6 432.5h0M656.8 433.0h0M659.7 433.4h0M670.0 433.3h0M679.0 432.9h0M689.3 433.4h0M882.8 433.4h0M407.0 434.0h0M467.5 433.5h0M525.3 433.7h0M574.1 433.6h0M590.6 433.6h0M596.7 434.4h0M600.1 434.1h0M628.8 434.5h0M651.6 433.5h0M655.3 434.3h0M681.1 434.3h0M684.8 434.4h0M693.4 433.6h0M401.0 435.1h0M402.4 435.1h0M409.5 434.5h0M474.4 435.0h0M572.7 435.1h0M580.3 434.7h0M583.4 434.6h0M592.2 434.6h0M625.0 434.8h0M631.1 434.6h0M636.7 434.9h0M664.0 434.9h0M695.1 434.6h0M402.4 436.5h0M404.0 436.0h0M508.1 436.3h0M587.7 435.6h0M597.2 435.6h0M607.2 436.0h0M618.3 435.8h0M626.4 436.4h0M639.2 435.7h0M645.2 435.7h0M409.1 436.9h0M506.3 436.6h0M511.2 437.3h0M613.6 437.2h0M648.7 437.3h0M665.7 436.7h0M684.3 437.0h0M405.4 438.5h0M410.1 437.9h0M434.3 438.3h0M509.0 437.7h0M612.7 438.5h0M633.3 437.6h0M641.0 438.5h0M691.2 438.4h0M403.6 439.0h0M558.3 439.2h0M568.2 438.8h0M572.3 438.6h0M583.5 439.4h0M631.4 438.7h0M635.5 439.2h0M656.8 439.4h0M659.4 439.3h0M684.9 439.4h0M698.9 439.1h0M405.2 439.9h0M506.2 439.9h0M538.0 439.7h0M540.0 440.0h0M560.0 440.0h0M619.0 440.4h0M626.1 440.4h0M646.2 439.8h0M668.1 440.0h0M407.6 441.2h0M408.8 441.4h0M561.6 441.4h0M577.4 441.5h0M661.1 441.1h0M666.3 441.2h0M687.0 440.9h0M696.0 440.8h0M698.0 440.7h0M700.7 440.6h0M702.2 441.2h0M410.8 442.5h0M414.7 442.3h0M461.1 442.3h0M473.0 442.2h0M501.5 441.9h0M503.5 441.8h0M508.0 441.8h0M511.6 442.0h0M620.0 442.5h0M627.8 442.3h0M678.1 441.9h0M466.1 443.2h0M468.8 443.4h0M470.8 443.2h0M474.3 442.8h0M509.1 443.2h0M578.5 442.5h0M586.8 443.0h0M609.3 442.6h0M653.8 443.4h0M682.3 443.0h0M686.5 443.3h0M687.9 443.3h0M692.8 443.3h0M411.6 444.0h0M413.9 443.9h0M415.2 444.0h0M416.8 443.6h0M463.1 444.3h0M464.7 443.7h0M473.1 443.8h0M474.3 444.4h0M477.3 443.8h0M517.2 443.8h0M520.3 443.7h0M569.2 444.5h0M573.6 444.4h0M589.9 444.3h0M602.7 444.3h0M607.4 444.3h0M656.0 443.9h0M436.7 444.7h0M459.3 445.0h0M496.3 445.0h0M502.1 444.5h0M505.9 444.8h0M521.8 445.2h0M575.0 445.3h0M616.0 444.6h0M648.3 445.0h0M684.4 445.4h0M696.2 444.8h0M705.4 444.7h0M442.7 446.0h0M447.1 445.8h0M453.0 445.8h0M464.4 446.4h0M479.8 445.6h0M495.1 446.4h0M600.6 446.1h0M608.4 445.6h0M645.0 446.4h0M661.8 445.7h0M688.5 446.4h0M692.7 446.3h0M700.7 446.0h0M704.3 446.2h0M437.3 446.7h0M446.7 447.3h0M449.4 447.4h0M457.4 447.4h0M469.6 446.6h0M477.9 446.5h0M481.4 446.8h0M501.2 446.8h0M506.9 446.6h0M518.2 446.7h0M520.8 446.6h0M522.7 446.9h0M575.5 446.6h0M577.2 446.9h0M598.4 447.2h0M618.9 446.5h0M660.4 447.1h0M675.6 447.5h0M678.8 447.2h0M680.6 447.5h0M684.2 446.6h0M687.8 447.4h0M698.2 447.3h0M464.0 447.8h0M470.0 448.3h0M480.9 448.0h0M487.2 447.6h0M491.6 448.4h0M495.0 447.8h0M508.6 447.7h0M521.2 447.9h0M572.4 448.0h0M576.2 447.8h0M582.4 447.6h0M596.0 448.2h0M608.1 448.3h0M620.2 447.7h0M657.4 447.7h0M674.3 447.6h0M677.6 448.0h0M700.2 448.1h0M706.1 448.3h0M449.9 449.1h0M472.4 449.1h0M481.7 449.0h0M483.2 448.9h0M488.1 448.6h0M526.1 448.9h0M528.4 448.6h0M623.0 448.7h0M635.3 449.3h0M676.4 448.7h0M679.7 448.5h0M683.4 448.8h0M685.5 449.3h0M693.4 448.8h0M695.7 448.5h0M709.0 449.5h0M451.6 450.1h0M457.5 449.8h0M464.4 449.9h0M503.2 449.9h0M514.4 450.0h0M526.6 450.3h0M550.8 450.0h0M620.3 449.6h0M623.4 450.4h0M639.3 450.4h0M657.3 449.8h0M673.9 449.6h0M459.7 451.3h0M467.9 451.0h0M475.6 451.4h0M483.0 450.8h0M485.4 450.6h0M489.0 451.2h0M497.8 450.7h0M499.2 451.0h0M504.1 451.1h0M507.3 450.7h0M508.8 450.7h0M523.2 451.1h0M525.1 450.5h0M570.4 450.6h0M575.3 450.7h0M619.9 451.1h0M648.9 451.0h0M679.4 450.9h0M681.0 451.1h0M688.2 450.5h0M697.9 450.8h0M706.3 450.6h0M709.9 450.7h0M457.1 452.3h0M462.2 452.3h0M466.2 452.1h0M497.9 452.1h0M515.3 452.0h0M603.8 452.3h0M635.3 451.5h0M678.5 451.9h0M679.9 452.2h0M694.4 451.6h0M699.9 452.3h0M458.4 453.1h0M478.1 452.6h0M501.0 452.8h0M517.5 452.8h0M543.3 453.3h0M561.6 452.6h0M581.0 452.7h0M605.0 452.6h0M609.8 452.8h0M632.1 453.0h0M634.2 452.6h0M672.9 452.9h0M705.3 453.3h0M708.5 452.9h0M712.3 453.2h0M460.6 453.9h0M467.6 454.2h0M471.0 454.2h0M472.4 454.1h0M476.9 454.2h0M482.5 454.5h0M485.3 454.1h0M487.1 453.6h0M496.0 453.7h0M516.1 453.8h0M593.3 454.2h0M619.3 453.5h0M670.2 454.3h0M674.6 453.8h0M689.1 454.4h0M700.7 454.0h0M707.0 453.6h0M459.9 455.1h0M477.5 455.4h0M478.7 455.3h0M516.0 455.3h0M523.2 454.5h0M554.2 455.0h0M584.1 454.6h0M644.1 454.6h0M651.1 454.9h0M674.6 455.4h0M680.3 454.8h0M697.7 454.6h0M699.8 455.1h0M711.8 454.9h0M462.6 456.1h0M484.7 456.1h0M492.1 456.4h0M502.5 455.5h0M513.7 456.3h0M571.5 455.9h0M591.2 455.7h0M668.5 455.9h0M678.3 456.2h0M687.9 456.3h0M706.4 456.1h0M459.9 456.8h0M461.3 456.6h0M497.9 457.5h0M510.7 457.4h0M512.3 456.9h0M535.0 456.7h0M566.8 456.6h0M581.9 456.9h0M653.3 456.9h0M684.0 457.3h0M702.7 457.3h0M709.8 457.2h0M714.5 456.8h0M462.7 457.9h0M479.0 458.2h0M485.9 457.7h0M501.1 458.1h0M508.1 458.3h0M518.2 458.3h0M569.8 457.5h0M577.9 458.3h0M590.7 458.3h0M605.5 457.8h0M643.7 458.3h0M654.5 458.4h0M670.2 458.1h0M690.2 457.8h0M697.2 458.1h0M706.6 458.1h0M712.1 457.6h0M713.7 458.1h0M474.0 459.0h0M485.4 459.0h0M503.2 458.9h0M557.8 458.7h0M563.7 459.3h0M581.6 458.6h0M636.9 458.7h0M673.4 458.8h0M676.3 459.4h0M677.6 459.4h0M694.1 459.0h0M696.1 458.8h0M701.2 458.7h0M466.4 460.3h0M470.2 460.2h0M504.6 459.6h0M606.6 459.6h0M612.8 460.1h0M678.9 459.8h0M687.1 459.8h0M688.9 459.9h0M698.2 459.7h0M699.9 460.2h0M706.5 459.9h0M708.8 460.2h0M489.2 460.7h0M492.0 461.3h0M493.9 461.4h0M499.0 461.5h0M501.6 460.7h0M509.2 461.0h0M528.9 460.8h0M598.3 461.3h0M636.8 460.6h0M690.3 460.6h0M696.6 461.0h0M702.8 460.7h0M466.4 462.0h0M477.6 461.8h0M479.8 462.1h0M488.6 461.8h0M492.4 462.4h0M501.4 461.9h0M514.5 461.5h0M516.1 461.6h0M524.9 462.4h0M535.4 461.8h0M558.6 462.2h0M565.5 461.6h0M569.2 462.5h0M572.1 462.3h0M578.2 462.0h0M579.7 462.4h0M584.1 462.5h0M589.2 462.2h0M596.0 462.0h0M634.8 462.4h0M637.7 462.2h0M644.8 461.6h0M677.6 462.4h0M688.2 462.1h0M694.8 462.4h0M698.3 461.6h0M710.7 462.2h0M712.8 461.7h0M463.7 462.9h0M467.6 463.1h0M502.9 462.7h0M543.9 463.0h0M548.6 462.7h0M553.2 463.3h0M554.9 462.7h0M567.3 462.9h0M588.6 463.4h0M608.6 463.1h0M640.1 462.5h0M670.6 462.9h0M676.1 463.0h0M693.5 463.2h0M698.3 463.5h0M704.7 462.9h0M487.0 463.8h0M501.1 464.2h0M514.1 464.1h0M540.5 464.4h0M558.7 464.0h0M561.6 464.1h0M564.7 463.9h0M584.3 464.3h0M590.3 464.4h0M627.7 464.2h0M672.3 463.8h0M684.5 463.9h0M699.3 464.1h0M702.9 464.0h0M714.2 464.3h0M483.3 464.9h0M510.1 465.3h0M512.6 464.6h0M519.8 464.7h0M525.3 465.1h0M537.1 465.5h0M550.3 464.8h0M551.7 464.6h0M556.0 464.5h0M575.3 464.8h0M593.3 465.0h0M613.4 464.8h0M619.4 465.0h0M622.4 465.3h0M672.8 465.0h0M679.6 465.5h0M690.2 465.1h0M704.3 465.3h0M712.1 464.8h0M482.5 466.0h0M504.4 466.3h0M515.3 466.0h0M528.0 466.1h0M540.5 466.0h0M544.5 466.1h0M554.1 465.6h0M556.8 465.9h0M561.1 465.8h0M590.5 466.1h0M596.6 465.6h0M624.7 466.4h0M693.5 466.3h0M695.6 465.6h0M705.5 465.9h0M713.3 465.8h0M466.7 466.7h0M471.7 467.3h0M474.0 466.6h0M501.1 467.0h0M531.6 466.6h0M563.3 467.4h0M584.2 467.1h0M620.0 466.5h0M697.1 466.9h0M705.2 467.3h0M458.3 467.5h0M476.9 468.1h0M502.7 468.2h0M509.0 467.9h0M524.7 467.5h0M533.0 468.2h0M542.9 468.4h0M548.2 468.3h0M562.4 468.4h0M575.4 468.2h0M581.4 468.4h0M585.6 467.6h0M589.1 468.3h0M595.6 468.5h0M686.5 467.6h0M688.9 467.9h0M691.2 468.1h0M707.6 468.0h0M711.3 468.0h0M496.9 469.4h0M498.8 468.7h0M505.3 468.9h0M507.7 469.4h0M522.6 469.3h0M557.2 468.8h0M568.6 469.0h0M571.6 468.8h0M583.6 468.9h0M684.6 468.8h0M702.4 468.9h0M715.8 468.6h0M509.3 470.5h0M514.8 470.2h0M524.7 469.8h0M534.2 469.5h0M546.0 469.8h0M562.9 470.0h0M565.1 470.2h0M577.7 469.8h0M580.1 470.4h0M593.3 470.2h0M692.4 469.8h0M695.6 469.5h0M703.0 470.5h0M497.8 470.9h0M504.7 471.1h0M512.2 471.3h0M520.3 471.4h0M526.2 471.1h0M542.7 470.7h0M553.0 470.8h0M569.8 471.3h0M571.0 470.7h0M578.7 470.6h0M584.3 470.9h0M687.3 471.1h0M704.5 471.0h0M713.4 470.6h0M495.8 471.6h0M498.1 472.1h0M513.9 471.7h0M536.1 471.6h0M544.0 471.6h0M548.7 471.9h0M551.0 471.9h0M563.5 472.4h0M575.3 472.1h0M580.3 472.4h0M583.1 471.5h0M705.2 472.1h0M491.7 473.3h0M493.9 472.7h0M526.3 472.5h0M530.2 472.9h0M556.2 472.5h0M560.9 473.5h0M696.6 473.3h0M702.3 472.7h0M480.5 474.3h0M522.9 473.9h0M527.2 473.9h0M538.4 473.5h0M543.6 473.7h0M555.3 473.5h0M573.0 474.3h0M575.4 473.8h0M577.9 473.6h0M700.1 474.3h0M709.9 473.9h0M711.2 473.7h0M512.6 475.2h0M525.6 475.1h0M542.6 475.4h0M545.2 475.1h0M561.3 474.7h0M566.9 475.1h0M692.8 475.1h0M703.5 474.5h0M486.8 476.1h0M533.7 475.7h0M695.0 475.6h0M697.3 475.9h0M539.1 476.5h0M542.8 476.6h0M550.7 476.6h0M561.0 477.1h0M564.4 477.4h0M498.3 478.3h0M528.0 477.9h0M558.0 477.5h0M488.5 479.4h0M531.7 479.2h0M538.2 478.6h0M550.4 479.0h0M559.4 479.5h0M498.6 480.4h0M518.4 479.5h0M524.9 479.7h0M538.3 479.9h0M543.9 480.4h0M555.5 480.2h0M487.0 481.2h0M485.8 482.2h0M488.4 482.4h0M527.6 482.1h0M533.5 482.0h0M551.1 481.6h0M554.0 482.3h0M508.5 483.3h0M535.4 483.4h0M537.9 483.1h0M540.2 483.1h0M541.8 482.9h0M548.6 483.2h0M554.8 483.3h0M484.7 483.6h0M512.0 484.5h0M515.5 483.9h0M546.8 484.1h0M550.5 484.3h0M487.4 484.8h0M517.9 485.3h0M525.8 484.7h0M536.8 485.0h0M538.5 484.7h0M556.7 484.7h0M493.0 486.1h0M543.0 486.4h0M549.3 486.2h0M558.1 486.1h0M257.7 487.0h0M561.7 486.7h0M255.0 487.7h0M493.0 488.2h0M533.3 488.1h0M541.2 488.2h0M545.9 488.4h0M550.5 487.5h0M554.9 487.8h0M251.0 489.0h0M488.6 489.2h0M521.6 488.8h0M523.3 488.9h0M537.2 488.7h0M554.6 489.1h0M557.3 489.4h0M517.1 490.0h0M539.3 490.1h0M544.2 489.5h0M548.7 490.1h0M558.5 489.6h0M486.3 491.4h0M517.6 491.1h0M541.9 491.3h0M554.8 491.4h0M248.3 491.7h0M253.7 492.3h0M490.5 492.3h0M544.5 491.7h0M514.9 493.4h0M518.9 493.4h0M526.1 493.3h0M533.0 493.2h0M542.9 493.0h0M550.3 492.7h0M257.7 493.7h0M484.4 494.2h0M491.3 494.0h0M511.1 494.1h0M516.5 493.5h0M521.2 494.5h0M523.8 493.6h0M535.9 494.0h0M548.3 494.4h0M551.0 493.8h0M249.7 495.0h0M480.0 495.1h0M481.3 495.3h0M483.0 495.3h0M516.4 495.2h0M525.3 495.3h0M555.3 494.8h0M527.9 495.7h0M558.6 496.0h0M479.0 496.6h0M483.7 497.3h0M486.1 497.3h0M492.8 496.6h0M547.8 496.8h0M559.8 497.3h0M246.3 497.7h0M516.1 498.0h0M517.3 497.6h0M522.0 498.2h0M525.9 497.8h0M535.2 498.4h0M540.7 497.6h0M543.6 498.3h0M544.9 497.9h0M552.8 497.8h0M479.2 498.5h0M509.4 499.1h0M511.1 499.2h0M539.5 498.8h0M559.1 498.9h0M239.0 499.7h0M516.6 500.0h0M518.5 500.3h0M526.3 500.3h0M544.9 500.1h0M551.2 499.6h0M555.0 499.6h0M477.0 501.1h0M495.7 500.7h0M499.9 501.2h0M544.1 501.4h0M240.3 502.3h0M473.2 502.5h0M484.1 501.7h0M487.9 502.2h0M538.0 502.1h0M541.3 501.9h0M235.0 503.0h0M470.6 502.7h0M478.6 502.7h0M495.6 502.6h0M505.0 503.3h0M532.9 502.7h0M536.9 503.2h0M213.7 503.7h0M482.0 503.7h0M510.5 504.2h0M515.0 504.4h0M529.6 504.2h0M534.8 503.8h0M539.7 503.7h0M207.7 505.0h0M231.0 505.0h0M472.5 504.8h0M485.5 504.7h0M518.0 505.3h0M522.3 504.5h0M523.5 505.1h0M538.5 504.7h0M210.9 505.8h0M470.8 506.2h0M479.6 506.1h0M484.1 506.2h0M511.6 506.1h0M525.2 506.4h0M531.0 506.3h0M210.5 507.2h0M475.6 507.0h0M493.8 506.9h0M498.4 507.4h0M509.4 507.4h0M229.7 508.3h0M241.7 508.3h0M245.7 508.3h0M471.6 508.4h0M491.9 508.1h0M506.5 508.4h0M512.5 507.9h0M526.9 507.7h0M530.6 508.0h0M537.6 507.8h0M208.5 508.8h0M494.7 509.0h0M515.9 508.7h0M525.6 508.8h0M211.7 510.0h0M492.7 509.9h0M498.8 510.1h0M519.7 509.5h0M521.3 509.8h0M538.8 510.0h0M179.0 511.0h0M185.7 510.5h0M188.4 511.5h0M190.3 511.0h0M216.8 510.9h0M218.1 510.7h0M488.8 511.2h0M506.6 511.2h0M182.2 511.7h0M185.5 512.5h0M210.7 512.3h0M214.1 511.6h0M215.6 512.5h0M218.6 512.0h0M240.3 511.7h0M477.2 511.5h0M484.1 512.2h0M516.4 512.1h0M527.0 512.5h0M532.1 512.1h0M552.5 512.5h0M194.3 513.3h0M212.1 513.4h0M213.2 512.8h0M221.7 513.3h0M223.9 513.2h0M487.0 512.7h0M499.0 513.2h0M535.2 513.1h0M188.8 514.4h0M195.6 514.5h0M218.6 513.9h0M220.3 514.3h0M481.5 513.8h0M494.4 514.1h0M496.7 514.0h0M509.7 514.0h0M517.6 513.6h0M545.8 513.6h0M548.1 514.2h0M181.6 514.7h0M187.5 515.2h0M191.9 514.9h0M193.5 514.7h0M208.6 515.3h0M211.5 515.4h0M218.8 515.4h0M223.5 514.6h0M469.2 515.0h0M477.1 515.3h0M491.6 515.1h0M500.1 515.2h0M517.5 514.8h0M527.4 515.4h0M530.6 514.9h0M534.0 514.6h0M535.6 514.8h0M539.6 515.3h0M183.1 515.9h0M184.4 516.2h0M189.3 515.7h0M192.9 516.2h0M207.6 516.3h0M210.3 516.1h0M215.5 516.3h0M228.1 516.0h0M234.2 515.9h0M467.4 516.0h0M470.2 516.4h0M471.7 516.4h0M482.2 516.4h0M494.8 516.0h0M512.0 516.2h0M519.9 516.0h0M182.5 517.2h0M195.9 516.7h0M197.6 517.4h0M224.5 516.6h0M231.7 516.9h0M234.2 517.2h0M465.8 516.5h0M475.4 516.8h0M499.5 517.2h0M513.1 517.0h0M522.9 516.7h0M550.2 516.6h0M178.2 518.1h0M180.8 518.1h0M185.2 517.7h0M187.6 517.8h0M191.9 518.3h0M193.6 518.3h0M198.7 517.9h0M225.9 518.0h0M230.1 517.9h0M463.2 518.4h0M477.8 518.5h0M493.8 518.1h0M502.2 517.5h0M506.3 517.5h0M519.5 517.8h0M523.2 518.1h0M536.5 518.4h0M551.6 517.7h0M176.1 518.8h0M188.7 519.3h0M211.6 519.3h0M235.6 519.1h0M466.4 518.6h0M486.5 518.9h0M495.1 518.7h0M553.9 519.2h0M167.0 519.7h0M174.8 520.4h0M186.4 519.8h0M207.6 519.7h0M218.2 519.5h0M220.4 519.8h0M226.3 520.1h0M228.1 520.0h0M235.1 520.2h0M488.0 520.3h0M495.1 520.0h0M496.6 520.3h0M519.0 519.5h0M554.9 520.5h0M166.5 521.2h0M172.3 520.6h0M177.5 520.6h0M185.2 521.3h0M207.0 521.4h0M212.3 520.9h0M214.4 520.9h0M217.3 521.2h0M227.9 521.5h0M462.3 520.7h0M477.8 520.6h0M502.2 520.8h0M504.7 520.5h0M506.5 520.7h0M512.3 521.4h0M170.9 521.6h0M187.9 521.7h0M200.6 521.9h0M204.2 521.9h0M215.4 522.3h0M219.2 522.3h0M238.0 522.2h0M242.6 522.3h0M244.9 521.5h0M246.2 522.1h0M469.7 522.0h0M494.1 522.2h0M503.6 522.2h0M556.8 522.0h0M178.3 523.5h0M180.1 522.6h0M222.0 522.5h0M225.7 523.5h0M228.5 522.7h0M236.1 523.0h0M240.2 522.9h0M241.4 523.3h0M438.4 523.4h0M440.9 522.9h0M476.8 522.9h0M480.0 522.6h0M484.7 522.7h0M171.4 524.3h0M172.9 524.1h0M187.4 524.4h0M227.6 524.5h0M233.0 524.1h0M247.8 523.8h0M452.1 523.6h0M455.0 524.3h0M472.3 523.5h0M475.3 524.1h0M488.3 524.1h0M495.5 523.6h0M498.5 523.9h0M502.9 523.6h0M510.7 523.8h0M513.3 523.8h0M517.8 524.1h0M558.2 524.0h0M180.6 525.4h0M182.7 525.3h0M186.3 525.5h0M192.0 524.6h0M199.5 524.6h0M203.3 524.7h0M209.3 524.8h0M220.6 525.3h0M239.4 525.4h0M437.1 524.7h0M450.7 525.0h0M453.6 524.8h0M469.2 524.6h0M479.7 524.9h0M481.6 525.0h0M484.5 525.2h0M486.3 525.5h0M491.4 525.4h0M165.8 525.9h0M167.4 525.6h0M189.0 525.7h0M194.6 525.8h0M196.6 526.2h0M197.8 525.8h0M214.3 526.0h0M233.4 525.8h0M240.7 526.3h0M251.3 525.7h0M258.6 526.0h0M259.9 526.2h0M442.9 526.0h0M450.1 526.3h0M472.8 526.1h0M493.5 526.3h0M560.4 525.7h0M170.7 526.9h0M181.9 527.2h0M210.0 526.7h0M211.7 526.7h0M219.8 526.6h0M222.0 526.8h0M226.6 526.6h0M244.9 526.8h0M254.5 527.3h0M435.3 526.7h0M436.5 527.5h0M447.1 526.9h0M476.6 527.3h0M478.0 526.6h0M485.1 526.5h0M498.6 527.1h0M503.1 526.7h0M514.2 527.0h0M517.1 526.7h0M561.9 527.5h0M163.7 528.3h0M168.0 527.8h0M179.0 527.9h0M191.1 527.6h0M192.4 527.6h0M228.8 527.5h0M237.3 528.2h0M242.5 527.6h0M250.0 527.8h0M256.7 527.9h0M441.1 528.1h0M455.3 527.7h0M466.4 528.2h0M484.0 528.3h0M491.9 528.5h0M497.6 528.3h0M509.9 527.6h0M512.3 528.1h0M563.8 528.3h0M165.7 529.1h0M168.8 529.1h0M173.8 528.7h0M202.5 529.2h0M218.1 529.5h0M224.1 528.7h0M228.5 528.9h0M234.5 528.6h0M240.8 529.4h0M243.4 529.0h0M258.5 529.0h0M265.2 529.5h0M431.8 528.7h0M433.1 529.3h0M436.3 529.4h0M438.6 529.0h0M482.6 529.0h0M487.8 528.8h0M506.6 529.0h0M519.0 529.0h0M710.8 528.8h0M166.7 530.4h0M181.3 530.2h0M196.3 530.1h0M206.3 530.4h0M213.2 530.5h0M221.4 530.5h0M231.8 530.2h0M234.8 529.9h0M238.4 529.7h0M260.8 530.1h0M262.1 530.3h0M268.2 530.4h0M281.7 529.9h0M429.7 530.2h0M444.5 530.1h0M465.0 530.5h0M466.8 529.9h0M469.1 529.8h0M476.6 530.4h0M482.2 530.3h0M484.4 529.6h0M509.9 530.0h0M565.2 530.2h0M165.0 531.2h0M174.3 530.7h0M194.8 531.1h0M199.2 531.3h0M200.9 531.1h0M208.3 530.9h0M224.7 531.3h0M226.9 530.9h0M238.1 530.9h0M251.6 531.4h0M273.5 531.0h0M439.8 531.1h0M448.9 530.6h0M454.7 530.6h0M460.5 531.0h0M508.0 531.4h0M189.1 532.1h0M217.0 531.8h0M227.7 532.2h0M231.4 532.2h0M235.9 532.1h0M247.5 531.8h0M263.0 532.1h0M265.6 532.0h0M268.9 532.0h0M431.8 531.5h0M434.7 532.4h0M440.5 532.2h0M444.4 531.7h0M445.7 531.7h0M451.7 532.1h0M454.0 531.7h0M478.3 531.7h0M480.6 531.5h0M484.3 532.4h0M488.8 532.3h0M513.1 531.6h0M166.1 533.2h0M167.8 533.1h0M171.7 532.7h0M183.4 532.7h0M184.8 533.0h0M186.0 533.3h0M192.9 532.6h0M196.2 533.5h0M223.3 532.8h0M230.1 533.2h0M239.1 533.3h0M244.3 533.1h0M253.3 533.3h0M430.7 532.9h0M436.2 533.1h0M438.3 533.0h0M445.6 533.3h0M453.4 533.0h0M466.7 532.7h0M482.8 532.6h0M495.4 533.4h0M501.6 533.3h0M509.7 532.5h0M566.9 533.0h0M159.7 533.7h0M215.7 534.3h0M235.2 533.6h0M255.1 533.8h0M258.8 534.3h0M268.4 534.3h0M270.7 533.8h0M434.8 533.7h0M441.6 534.2h0M444.0 534.0h0M449.8 533.8h0M464.5 534.5h0M488.7 534.3h0M499.0 533.5h0M508.5 533.7h0M166.5 534.5h0M189.9 535.5h0M193.8 534.6h0M211.4 535.0h0M213.5 535.1h0M220.5 535.5h0M228.6 534.8h0M239.5 535.1h0M249.3 534.6h0M251.6 534.6h0M452.2 534.6h0M490.3 535.5h0M497.3 534.7h0M499.2 535.0h0M502.4 535.3h0M568.8 534.5h0M165.5 535.6h0M168.3 535.7h0M179.0 535.9h0M189.1 536.4h0M191.2 535.6h0M194.1 535.8h0M218.8 536.2h0M221.8 535.9h0M224.5 535.6h0M231.0 536.2h0M238.7 536.3h0M244.7 535.8h0M247.6 535.6h0M264.3 535.8h0M438.0 536.5h0M439.3 536.0h0M442.1 535.8h0M444.6 535.8h0M493.0 535.8h0M507.6 535.9h0M508.9 535.6h0M570.3 535.7h0M730.5 535.7h0M165.9 536.8h0M170.8 536.5h0M191.3 537.2h0M198.0 537.1h0M200.5 537.1h0M220.8 537.2h0M240.7 537.2h0M249.3 536.6h0M260.7 536.6h0M571.9 537.0h0M729.5 536.6h0M906.3 536.8h0M165.5 538.0h0M171.5 537.8h0M178.4 538.3h0M184.7 538.4h0M201.4 538.3h0M234.6 538.3h0M239.1 537.7h0M245.2 537.9h0M257.6 537.8h0M472.1 538.4h0M487.3 538.2h0M504.0 538.5h0M512.4 538.1h0M729.0 538.0h0M904.5 537.7h0M170.2 538.8h0M171.4 539.2h0M179.9 538.6h0M193.8 539.4h0M204.6 539.3h0M220.7 538.5h0M226.9 538.8h0M229.4 538.9h0M236.4 538.9h0M239.9 538.9h0M256.0 538.9h0M257.8 539.4h0M259.2 539.0h0M468.4 538.5h0M470.0 538.8h0M475.2 538.7h0M491.1 539.0h0M496.2 539.2h0M509.3 538.6h0M575.0 539.1h0M718.3 538.8h0M730.3 539.0h0M733.0 538.7h0M903.7 539.3h0M167.2 539.8h0M199.4 540.4h0M221.9 539.7h0M223.3 539.5h0M225.2 539.8h0M246.5 540.1h0M251.9 540.2h0M429.0 540.0h0M449.8 540.0h0M461.3 540.3h0M492.8 540.2h0M497.5 539.7h0M505.9 539.7h0M734.5 540.1h0M901.6 539.7h0M166.6 541.2h0M176.3 540.9h0M196.3 541.0h0M219.6 540.6h0M247.0 541.2h0M249.1 541.1h0M257.9 540.7h0M446.6 541.0h0M451.7 540.6h0M467.5 540.5h0M470.9 541.5h0M474.6 540.8h0M476.0 541.4h0M486.7 541.3h0M502.3 540.8h0M503.8 541.3h0M513.9 541.1h0M576.6 541.1h0M171.4 541.6h0M178.8 541.9h0M187.9 541.6h0M192.5 542.3h0M194.7 542.0h0M200.2 542.3h0M202.2 542.4h0M216.7 541.7h0M225.6 542.3h0M232.5 541.7h0M236.7 541.6h0M245.7 542.3h0M431.0 542.0h0M445.2 541.6h0M451.7 542.3h0M456.9 541.9h0M468.1 542.4h0M488.9 541.6h0M498.4 541.8h0M511.5 541.9h0M577.7 542.1h0M732.8 542.0h0M735.9 542.3h0M165.2 543.4h0M175.7 542.9h0M182.7 543.4h0M186.7 542.9h0M193.1 543.4h0M203.2 543.3h0M205.3 543.3h0M212.8 543.4h0M224.5 543.1h0M230.6 543.1h0M237.5 542.7h0M240.8 543.2h0M255.2 543.5h0M443.1 542.7h0M457.5 543.3h0M459.1 542.6h0M486.3 543.4h0M499.3 543.0h0M506.5 543.4h0M509.4 542.6h0M515.3 543.0h0M580.9 543.4h0M901.8 542.8h0M151.9 544.4h0M168.6 543.8h0M172.6 544.2h0M200.9 543.9h0M210.9 543.9h0M215.4 544.2h0M221.9 544.2h0M225.5 544.3h0M252.1 543.8h0M253.6 543.6h0M445.1 543.8h0M451.5 543.5h0M462.0 544.0h0M469.9 544.3h0M511.3 544.5h0M513.9 543.8h0M733.9 544.1h0M735.4 543.8h0M738.2 544.1h0M900.6 544.0h0M161.5 545.0h0M164.7 544.7h0M168.6 545.3h0M189.2 545.5h0M194.4 544.8h0M198.9 545.3h0M203.5 544.7h0M211.8 545.3h0M218.6 544.6h0M221.1 545.3h0M231.5 544.9h0M238.4 545.1h0M240.9 544.7h0M245.6 545.0h0M249.3 544.7h0M251.2 545.2h0M422.5 545.0h0M443.4 544.9h0M452.9 545.2h0M454.1 545.3h0M467.7 544.6h0M473.0 544.9h0M515.3 544.6h0M898.7 544.8h0M155.0 546.3h0M165.6 545.7h0M187.0 545.7h0M191.4 546.2h0M202.6 545.6h0M207.5 546.1h0M209.8 546.2h0M216.2 546.4h0M219.2 545.8h0M242.2 546.4h0M244.4 546.1h0M435.8 545.5h0M443.2 546.2h0M446.9 545.7h0M455.3 546.5h0M459.4 545.6h0M462.8 546.2h0M466.8 545.7h0M470.0 546.3h0M471.3 545.7h0M509.6 546.2h0M582.6 546.1h0M718.3 545.5h0M897.8 545.6h0M156.2 547.0h0M163.6 547.2h0M165.4 547.1h0M167.0 547.0h0M189.7 547.5h0M202.6 547.4h0M206.6 547.2h0M221.0 546.6h0M227.2 547.0h0M237.4 546.7h0M247.7 547.1h0M427.0 547.0h0M448.4 546.7h0M484.1 547.4h0M485.1 546.6h0M489.1 547.0h0M499.1 546.9h0M502.9 547.4h0M511.5 546.9h0M585.1 546.8h0M895.0 546.6h0M161.7 547.6h0M175.0 548.2h0M179.6 548.2h0M187.3 548.3h0M193.0 548.0h0M195.7 547.9h0M209.7 548.3h0M215.5 548.2h0M221.4 547.8h0M234.8 547.7h0M241.2 548.1h0M505.0 547.6h0M733.9 548.1h0M735.9 548.3h0M739.1 547.9h0M153.7 548.7h0M170.2 549.1h0M200.2 549.5h0M207.6 549.0h0M212.0 549.1h0M214.4 549.3h0M223.0 548.7h0M239.0 549.2h0M241.0 549.4h0M456.4 548.5h0M459.5 549.0h0M462.7 549.2h0M464.4 548.7h0M468.0 549.0h0M485.3 548.7h0M489.0 548.8h0M493.5 548.6h0M501.6 549.3h0M511.1 548.8h0M513.5 549.4h0M738.7 549.4h0M896.4 549.1h0M154.1 550.2h0M158.9 550.1h0M168.5 550.4h0M179.2 549.8h0M185.7 549.9h0M193.2 550.2h0M224.1 550.2h0M503.7 549.5h0M508.8 550.4h0M586.4 549.5h0M588.3 549.7h0M739.9 550.0h0M157.9 551.5h0M163.6 551.4h0M166.9 551.5h0M175.6 551.5h0M212.3 551.3h0M221.9 550.7h0M225.3 551.4h0M228.9 551.0h0M230.9 550.5h0M233.5 551.5h0M234.3 550.5h0M237.1 550.8h0M440.5 551.0h0M462.0 550.9h0M487.6 550.7h0M492.8 550.8h0M494.3 550.8h0M513.7 551.3h0M733.5 550.5h0M742.1 551.2h0M743.4 550.5h0M892.7 551.2h0M895.4 551.0h0M150.9 552.0h0M154.2 551.7h0M210.2 551.8h0M216.0 551.6h0M219.8 551.9h0M421.0 552.5h0M461.1 552.0h0M499.3 551.8h0M509.5 551.6h0M590.8 551.9h0M152.0 553.1h0M154.2 553.2h0M165.8 553.0h0M171.9 553.1h0M177.7 552.9h0M179.7 553.4h0M185.8 552.7h0M187.4 553.0h0M192.3 552.7h0M216.6 553.2h0M228.6 552.9h0M492.3 553.0h0M504.7 552.5h0M513.1 553.4h0M720.2 552.7h0M730.7 553.4h0M733.5 552.8h0M743.8 553.0h0M900.0 553.0h0M160.0 553.6h0M184.5 554.5h0M189.2 554.2h0M190.4 553.7h0M196.3 553.9h0M201.0 554.4h0M205.2 554.0h0M208.3 554.1h0M488.9 553.7h0M498.0 554.4h0M511.9 554.3h0M737.6 554.3h0M742.2 554.1h0M745.9 554.2h0M891.7 553.7h0M161.0 554.8h0M162.5 554.7h0M175.8 555.1h0M210.3 555.1h0M222.6 555.3h0M228.5 554.7h0M490.8 554.5h0M494.5 555.3h0M722.0 554.7h0M730.7 555.0h0M739.1 554.6h0M891.1 554.9h0M165.4 556.2h0M167.6 555.5h0M185.3 556.3h0M191.2 555.7h0M201.5 555.6h0M204.4 555.9h0M217.4 555.7h0M220.8 556.2h0M447.1 556.3h0M477.6 555.7h0M493.4 556.2h0M496.9 555.8h0M734.8 555.6h0M737.1 556.0h0M739.3 555.9h0M167.6 557.4h0M172.3 557.1h0M187.3 556.6h0M196.5 557.0h0M224.4 556.7h0M445.9 556.5h0M449.2 556.5h0M451.2 556.8h0M476.7 556.6h0M479.2 556.7h0M484.0 557.1h0M507.3 556.6h0M511.8 556.8h0M716.0 557.0h0M725.4 557.5h0M731.7 556.9h0M741.0 556.6h0M169.3 558.1h0M182.1 558.1h0M190.4 558.0h0M192.2 557.9h0M198.6 558.1h0M199.6 557.5h0M214.0 558.4h0M216.5 558.2h0M219.4 558.0h0M446.0 558.0h0M459.4 558.2h0M475.3 558.3h0M482.8 558.0h0M487.3 557.9h0M715.0 558.0h0M723.0 557.6h0M732.7 557.9h0M891.5 557.8h0M163.5 558.6h0M171.0 559.0h0M179.8 558.6h0M181.2 558.9h0M184.6 558.6h0M192.9 558.8h0M195.0 559.2h0M196.6 558.8h0M200.5 559.5h0M223.7 559.0h0M455.8 559.2h0M463.6 558.6h0M467.0 559.4h0M511.6 559.3h0M175.5 559.6h0M182.7 559.6h0M194.4 560.4h0M202.6 559.7h0M206.0 560.1h0M225.0 559.6h0M453.5 560.4h0M463.0 560.4h0M474.3 560.5h0M477.2 559.8h0M483.1 559.7h0M503.8 560.2h0M734.8 559.8h0M888.7 560.2h0M891.5 559.8h0M903.3 560.0h0M165.3 561.3h0M173.2 561.5h0M201.2 560.7h0M219.9 560.6h0M442.8 560.7h0M444.8 560.5h0M458.8 561.4h0M465.9 561.1h0M480.4 560.7h0M506.4 560.6h0M511.7 560.5h0M733.5 560.7h0M177.2 562.1h0M181.0 561.6h0M186.3 561.6h0M199.3 562.1h0M200.5 561.7h0M211.9 562.1h0M216.7 561.7h0M454.7 561.9h0M463.7 561.6h0M468.2 561.5h0M475.9 561.9h0M478.1 561.5h0M482.5 562.3h0M486.2 562.0h0M493.2 562.3h0M494.4 561.7h0M714.5 562.0h0M724.8 562.2h0M748.0 562.0h0M750.0 561.5h0M889.0 562.2h0M168.9 562.6h0M177.6 563.4h0M185.5 563.4h0M195.4 563.1h0M197.8 563.1h0M200.7 563.3h0M204.9 563.5h0M206.1 563.5h0M458.8 562.9h0M460.2 563.1h0M462.7 562.8h0M479.2 562.8h0M722.0 563.4h0M192.0 564.1h0M202.3 564.5h0M207.4 564.2h0M235.0 563.7h0M425.2 564.0h0M455.8 563.9h0M490.6 564.2h0M492.9 563.9h0M723.8 564.0h0M888.6 564.0h0M186.5 565.4h0M189.8 565.1h0M423.2 565.2h0M425.9 565.3h0M460.0 564.8h0M487.2 564.7h0M489.2 565.0h0M492.1 565.2h0M496.7 565.3h0M721.7 564.8h0M887.7 565.0h0M184.6 566.5h0M194.4 565.6h0M198.7 565.8h0M204.1 565.6h0M205.9 566.3h0M424.7 565.8h0M428.7 566.5h0M480.1 565.7h0M738.0 565.5h0M776.0 566.0h0M200.9 567.0h0M202.7 566.8h0M215.0 567.0h0M219.0 567.0h0M478.2 567.1h0M888.7 567.3h0M204.0 567.9h0M205.8 568.1h0M224.3 568.3h0M428.3 567.9h0M482.1 568.1h0M487.1 568.4h0M499.1 568.1h0M776.5 568.5h0M886.6 568.0h0M475.4 569.1h0M480.2 569.4h0M495.4 568.8h0M723.0 569.0h0M734.5 569.0h0M885.2 569.4h0M236.3 569.7h0M425.3 569.9h0M436.7 569.6h0M468.0 570.5h0M477.1 569.9h0M487.5 569.9h0M728.5 570.5h0M442.6 571.2h0M483.9 571.1h0M494.0 571.5h0M215.0 572.3h0M440.1 572.0h0M477.4 572.4h0M481.1 571.6h0M487.5 571.7h0M490.1 571.8h0M746.0 571.5h0M886.8 571.9h0M430.7 572.8h0M445.7 573.0h0M490.9 573.2h0M883.7 572.6h0M232.3 573.7h0M434.1 574.3h0M442.4 573.8h0M449.4 573.8h0M452.7 574.2h0M456.9 573.9h0M480.0 574.3h0M482.2 573.9h0M488.8 573.8h0M494.4 573.8h0M503.0 574.5h0M738.5 573.5h0M753.5 573.5h0M443.8 575.3h0M450.7 575.5h0M479.0 575.5h0M489.7 575.0h0M492.9 574.6h0M884.7 574.7h0M434.4 575.5h0M436.0 575.6h0M438.3 575.6h0M446.7 576.2h0M453.2 576.3h0M480.4 576.1h0M481.9 576.4h0M491.7 575.8h0M695.7 576.0h0M444.1 577.1h0M454.2 577.2h0M456.4 576.5h0M485.5 576.5h0M488.7 577.4h0M717.0 577.0h0M884.9 576.8h0M217.7 577.7h0M223.0 578.3h0M227.0 577.7h0M439.0 577.6h0M459.9 578.4h0M462.6 578.4h0M464.5 577.5h0M492.0 577.6h0M697.5 577.7h0M762.0 578.0h0M469.5 579.0h0M492.7 578.9h0M697.4 579.5h0M698.8 579.5h0M883.8 578.9h0M452.4 580.1h0M457.7 580.0h0M487.1 580.2h0M706.5 580.0h0M886.7 580.4h0M901.3 580.3h0M449.1 581.2h0M465.4 581.4h0M486.1 581.1h0M488.7 581.2h0M698.9 580.8h0M700.8 581.0h0M775.0 581.0h0M447.6 581.8h0M490.3 581.7h0M495.0 581.5h0M702.5 582.3h0M734.5 582.0h0M776.5 582.5h0M885.8 581.7h0M440.1 582.8h0M451.3 582.9h0M456.4 583.3h0M459.1 583.2h0M432.0 584.1h0M442.5 583.6h0M444.8 584.1h0M749.0 583.5h0M433.8 585.1h0M440.3 585.5h0M454.3 585.3h0M460.7 585.0h0M470.1 584.7h0M476.8 585.0h0M703.2 585.4h0M773.8 585.3h0M428.5 585.6h0M445.3 586.5h0M457.6 586.0h0M459.0 585.6h0M464.6 586.4h0M473.6 586.4h0M450.8 586.6h0M460.3 586.8h0M476.4 587.4h0M760.1 586.9h0M769.1 587.4h0M438.4 588.1h0M445.8 587.9h0M448.6 587.9h0M478.9 588.0h0M480.4 587.7h0M756.3 588.4h0M758.8 587.9h0M761.6 588.3h0M437.6 589.2h0M442.1 589.1h0M445.2 589.3h0M447.6 588.9h0M473.3 588.6h0M479.7 589.4h0M481.0 589.1h0M707.4 588.6h0M771.5 589.3h0M451.9 589.8h0M466.0 590.2h0M468.6 589.9h0M730.3 590.5h0M736.2 590.1h0M753.5 590.2h0M762.7 590.4h0M442.2 591.2h0M450.1 590.8h0M463.6 591.5h0M710.9 590.6h0M719.5 591.0h0M720.8 591.0h0M722.8 591.4h0M752.5 591.3h0M755.9 590.7h0M769.2 591.1h0M708.5 591.6h0M725.2 592.1h0M729.7 592.0h0M735.8 591.7h0M736.9 592.2h0M758.2 591.6h0M767.3 592.5h0M771.8 591.7h0M457.4 592.8h0M458.6 593.5h0M459.9 592.9h0M461.6 592.8h0M711.1 593.1h0M712.5 592.6h0M718.1 592.6h0M731.9 592.6h0M751.2 593.3h0M769.4 593.4h0M719.5 594.3h0M721.4 593.6h0M738.8 593.7h0M761.3 594.3h0M719.2 595.4h0M740.2 594.8h0M754.9 595.5h0M757.7 594.8h0M759.8 595.2h0M767.1 594.9h0M717.3 595.9h0M745.5 596.1h0M762.6 596.5h0M722.5 596.5h0M731.0 597.3h0M737.2 597.0h0M739.1 597.3h0M742.5 596.9h0M748.1 597.1h0M751.0 597.5h0M752.4 598.0h0M766.7 598.3h0M729.7 598.7h0M733.1 598.6h0M757.6 599.0h0M760.1 599.4h0M765.0 598.5h0M723.3 599.9h0M739.3 600.2h0M757.8 600.5h0M761.3 599.9h0M724.8 600.6h0M726.6 600.8h0M730.1 601.0h0M733.6 600.5h0M745.3 601.2h0M747.7 601.2h0M748.9 600.9h0M752.8 601.0h0M756.0 601.3h0M731.1 602.3h0M735.7 601.5h0M751.8 602.5h0M730.0 603.2h0M735.1 603.5h0M737.1 604.5h0M746.7 603.9h0M734.2 604.6h0M986.8 624.4h0M990.5 623.8h0M978.9 625.4h0M982.9 625.0h0M992.5 625.5h0M984.9 625.9h0M996.3 625.7h0M987.5 626.7h0M994.7 627.0h0M976.2 627.9h0M1001.3 629.1h0M994.7 629.8h0M1005.5 630.3h0M988.6 632.3h0M990.3 631.8h0M997.0 632.1h0M1012.7 631.8h0M970.1 633.3h0M1019.4 632.5h0M989.5 633.9h0M1000.0 634.0h0M1018.5 634.3h0M957.1 635.3h0M1008.0 634.8h0M1011.0 634.9h0M1021.0 635.3h0M970.0 635.9h0M1019.5 636.3h0M966.9 637.2h0M980.7 637.5h0M1012.9 636.9h0M1017.7 637.0h0M983.8 638.0h0M985.2 638.2h0M1004.0 638.3h0M965.7 639.3h0M967.0 638.5h0M975.7 638.8h0M981.5 639.3h0M985.8 639.5h0M994.0 638.8h0M996.8 639.1h0M1011.0 639.5h0M957.1 640.1h0M983.9 639.7h0M966.7 641.4h0M977.0 641.4h0M971.6 642.3h0M992.4 641.6h0M999.5 641.9h0M1000.6 642.5h0M1008.0 641.7h0M984.7 642.6h0M996.5 643.3h0M981.8 643.9h0M990.9 644.0h0M1011.3 644.0h0M1020.6 644.2h0M964.0 645.2h0M968.3 644.9h0M984.2 644.5h0M996.7 645.5h0M1017.1 644.9h0M1028.1 644.8h0M599.9 646.2h0M949.2 646.3h0M951.8 646.4h0M959.5 645.8h0M969.1 645.9h0M971.6 645.6h0M994.4 645.9h0M1036.3 646.4h0M1039.1 646.5h0M1041.1 645.5h0M598.0 647.3h0M950.3 647.2h0M978.6 647.2h0M1003.6 647.2h0M1010.7 647.0h0M1013.4 646.6h0M1016.7 647.1h0M1027.4 647.0h0M1037.4 648.0h0M600.9 648.6h0M602.1 649.3h0M603.4 648.7h0M607.1 648.7h0M610.9 648.9h0M953.6 648.9h0M962.7 649.3h0M986.4 649.4h0M1011.5 648.7h0M1027.6 649.5h0M1032.5 648.8h0M595.4 650.0h0M612.5 649.5h0M615.3 650.5h0M984.5 649.7h0M1005.1 650.5h0M1007.1 649.8h0M599.3 650.8h0M946.7 650.7h0M957.2 650.8h0M969.8 651.2h0M989.5 651.2h0M1002.1 650.9h0M1006.1 651.3h0M1028.8 651.4h0M1038.2 650.8h0M594.8 651.8h0M599.1 652.3h0M605.8 652.1h0M609.8 651.8h0M617.0 651.8h0M618.2 652.2h0M947.6 651.5h0M953.4 651.9h0M958.1 651.7h0M980.2 651.9h0M600.1 653.5h0M615.9 652.7h0M978.3 652.6h0M1025.2 652.9h0M1026.8 653.5h0M1032.7 653.0h0M1035.2 653.0h0M594.0 654.4h0M597.2 653.6h0M604.7 654.4h0M610.7 654.0h0M914.3 654.3h0M957.6 654.1h0M973.9 653.6h0M986.3 654.0h0M1038.3 654.3h0M602.0 655.3h0M612.9 654.6h0M615.4 655.2h0M942.4 654.5h0M949.4 655.2h0M977.4 655.4h0M994.2 654.9h0M1013.4 654.5h0M617.4 655.7h0M619.4 656.1h0M990.3 655.7h0M1011.1 656.2h0M1019.2 655.8h0M597.3 656.5h0M604.0 657.0h0M606.2 657.1h0M953.8 657.2h0M957.6 657.3h0M959.2 657.0h0M987.2 657.4h0M1000.7 656.9h0M1003.5 657.4h0M626.6 658.3h0M948.1 658.0h0M968.1 657.7h0M974.4 657.9h0M982.5 658.0h0M1019.1 657.6h0M1026.3 658.0h0M1039.8 657.9h0M600.0 659.1h0M601.5 659.2h0M602.9 659.4h0M615.0 658.6h0M641.2 658.8h0M951.1 658.8h0M1014.6 659.0h0M1030.1 659.1h0M592.8 659.8h0M604.9 659.8h0M612.6 660.1h0M618.4 659.8h0M953.0 660.4h0M976.7 660.1h0M980.7 660.3h0M984.6 660.4h0M1037.7 660.2h0M595.0 661.4h0M596.8 660.5h0M602.8 660.9h0M612.8 661.4h0M944.9 660.8h0M992.6 660.8h0M994.9 661.2h0M1008.0 661.1h0M1011.3 661.1h0M592.9 662.4h0M611.1 662.0h0M944.3 662.3h0M949.1 662.1h0M1040.5 661.6h0M595.0 662.9h0M601.5 663.3h0M953.2 663.2h0M971.6 662.7h0M1012.2 663.2h0M1023.1 663.2h0M1025.9 663.2h0M1035.7 662.9h0M1038.5 663.2h0M592.8 664.1h0M605.1 664.1h0M636.9 663.7h0M977.2 664.1h0M982.7 663.6h0M992.8 663.7h0M995.4 663.6h0M1010.4 664.4h0M1014.8 664.0h0M1028.1 664.4h0M1033.1 663.8h0M599.4 665.3h0M620.5 665.4h0M621.7 664.7h0M946.8 664.9h0M966.2 664.7h0M975.7 665.0h0M595.3 666.5h0M597.5 666.0h0M600.9 665.9h0M603.4 665.6h0M981.1 665.9h0M983.7 665.8h0M986.9 666.0h0M991.2 665.8h0M1004.4 665.8h0M1005.8 666.2h0M592.1 667.1h0M598.7 666.5h0M602.4 667.1h0M604.7 667.1h0M633.5 667.1h0M636.6 667.2h0M942.4 667.3h0M949.6 667.5h0M953.7 666.5h0M956.8 667.0h0M973.4 666.6h0M976.8 666.9h0M1009.0 667.1h0M1015.3 667.4h0M596.8 668.1h0M600.5 667.6h0M606.2 667.8h0M618.1 667.5h0M619.9 668.4h0M621.5 667.8h0M629.6 667.9h0M637.9 667.9h0M943.1 668.3h0M959.1 668.1h0M960.9 668.1h0M1028.0 667.8h0M598.2 669.2h0M605.0 668.8h0M608.7 668.7h0M611.8 668.5h0M613.7 668.9h0M947.6 669.2h0M971.7 669.2h0M973.9 669.5h0M989.9 668.8h0M1001.3 668.6h0M1005.9 669.3h0M1008.1 669.2h0M1011.0 668.5h0M596.3 669.7h0M612.5 670.0h0M954.6 669.5h0M960.4 669.7h0M979.4 670.2h0M980.6 669.7h0M986.0 670.3h0M1018.0 669.6h0M615.3 670.5h0M617.3 671.3h0M621.3 671.1h0M632.0 671.0h0M638.8 670.9h0M950.3 670.6h0M959.4 670.7h0M969.6 670.8h0M988.3 670.9h0M601.0 672.4h0M610.3 671.9h0M616.5 672.2h0M630.7 672.0h0M634.4 671.6h0M932.2 671.8h0M937.6 672.1h0M939.3 672.1h0M946.1 672.3h0M953.0 671.6h0M996.9 672.0h0M1008.5 671.5h0M1012.5 672.3h0M1020.6 671.6h0M591.4 672.9h0M593.4 673.4h0M603.6 673.4h0M609.2 673.2h0M611.3 672.8h0M949.5 673.0h0M989.3 673.5h0M594.4 674.5h0M616.7 674.0h0M633.6 673.8h0M639.3 674.5h0M930.1 674.4h0M943.5 673.9h0M1024.3 674.2h0M1048.1 674.1h0M598.3 674.9h0M604.0 674.9h0M612.5 674.9h0M620.8 674.7h0M936.2 675.2h0M940.1 674.5h0M959.6 675.3h0M982.6 675.1h0M998.8 675.0h0M1001.9 675.4h0M1009.0 675.1h0M1017.5 674.6h0M1019.4 674.9h0M1031.3 675.4h0M592.9 675.8h0M621.8 676.1h0M623.8 676.4h0M941.1 676.5h0M950.1 676.3h0M955.4 675.9h0M966.0 676.3h0M969.6 675.7h0M991.7 675.5h0M995.9 675.7h0M1028.7 676.3h0M593.7 677.2h0M602.3 676.9h0M617.3 676.8h0M637.6 677.1h0M931.9 677.1h0M939.3 676.6h0M947.1 677.5h0M992.3 677.0h0M1017.5 677.3h0M1021.8 677.0h0M593.3 678.4h0M596.3 678.0h0M615.1 678.5h0M617.9 678.3h0M957.5 677.7h0M985.2 677.9h0M987.6 677.5h0M993.6 677.9h0M995.9 678.4h0M1007.9 677.6h0M1019.3 677.6h0M1024.4 677.6h0M1030.5 678.4h0M588.0 679.2h0M589.4 678.7h0M591.7 678.7h0M612.8 679.3h0M621.2 678.6h0M629.3 678.9h0M947.0 679.3h0M953.3 679.3h0M965.6 679.4h0M967.2 678.7h0M999.0 678.6h0M1016.8 679.4h0M1021.1 679.0h0M609.8 679.8h0M616.4 680.3h0M631.8 679.8h0M634.9 680.3h0M973.0 679.9h0M989.9 680.3h0M994.9 680.1h0M1000.3 680.3h0M1007.1 679.7h0M1014.4 680.4h0M1025.7 679.7h0M596.6 681.0h0M607.9 680.9h0M611.0 680.8h0M612.2 681.5h0M618.8 681.3h0M622.8 681.2h0M627.3 681.5h0M922.7 681.4h0M946.3 681.2h0M952.5 680.8h0M954.8 680.8h0M961.8 681.3h0M971.7 681.0h0M992.0 681.1h0M993.3 680.9h0M1002.8 681.3h0M1009.7 680.8h0M1040.2 681.2h0M591.5 682.0h0M599.8 681.7h0M603.8 682.0h0M610.1 681.9h0M620.1 681.8h0M632.5 682.4h0M636.1 681.5h0M641.8 681.7h0M925.1 682.3h0M927.6 682.2h0M933.3 682.5h0M935.0 682.0h0M942.1 681.8h0M945.1 682.1h0M984.7 681.6h0M988.6 682.0h0M995.7 682.3h0M1022.6 682.2h0M592.2 683.0h0M607.4 683.5h0M617.6 682.5h0M621.2 682.8h0M634.2 683.0h0M937.4 683.3h0M943.2 682.5h0M946.6 682.7h0M954.7 683.0h0M957.3 683.4h0M989.8 683.5h0M1000.6 683.5h0M1001.6 682.7h0M1013.7 682.8h0M1028.8 682.8h0M603.8 684.4h0M622.6 684.1h0M623.8 683.7h0M627.9 683.7h0M630.9 683.7h0M638.0 684.4h0M643.3 684.2h0M950.6 683.7h0M966.4 684.5h0M977.7 684.2h0M980.9 684.4h0M988.4 684.3h0M1006.3 683.5h0M1024.8 683.6h0M594.4 685.3h0M620.4 684.5h0M629.9 684.7h0M632.8 684.6h0M636.0 685.2h0M646.0 684.6h0M651.7 685.4h0M944.8 685.4h0M996.3 685.3h0M1001.7 685.0h0M1008.6 685.2h0M1010.0 685.0h0M1014.2 684.8h0M603.6 685.7h0M609.0 686.3h0M611.3 686.2h0M650.5 686.4h0M928.0 685.9h0M940.0 686.1h0M967.1 686.4h0M592.3 686.9h0M596.2 686.9h0M598.8 686.7h0M605.0 687.4h0M629.3 687.4h0M640.2 686.7h0M644.7 687.0h0M646.4 687.2h0M946.4 686.7h0M982.7 687.2h0M995.7 686.5h0M1006.9 687.1h0M1015.4 687.1h0M1026.1 687.1h0M591.6 688.0h0M606.8 687.6h0M624.3 687.8h0M631.2 688.1h0M638.5 687.8h0M642.1 687.8h0M932.2 687.7h0M938.8 687.9h0M952.6 687.6h0M960.0 687.6h0M961.5 687.8h0M987.3 688.3h0M992.4 687.5h0M1000.8 687.7h0M1010.8 687.5h0M597.5 688.8h0M612.4 689.4h0M628.3 689.4h0M642.1 689.5h0M950.9 688.5h0M965.4 688.5h0M969.5 689.1h0M977.4 689.2h0M994.8 688.8h0M998.5 688.6h0M1006.6 688.8h0M592.4 689.9h0M618.2 690.2h0M630.4 690.2h0M645.1 689.6h0M929.9 689.6h0M934.3 690.0h0M941.0 690.1h0M959.6 690.1h0M962.1 689.7h0M979.7 690.4h0M1017.1 689.9h0M597.1 691.2h0M602.7 691.1h0M608.2 691.0h0M639.4 691.0h0M641.0 691.3h0M645.9 691.0h0M940.6 691.4h0M942.1 690.5h0M947.6 691.3h0M970.9 691.3h0M988.6 691.1h0M1001.9 690.6h0M602.4 692.4h0M614.5 692.2h0M628.4 691.8h0M636.6 692.2h0M891.0 692.1h0M942.2 691.8h0M944.7 692.2h0M952.2 692.3h0M956.3 692.3h0M959.7 692.2h0M963.8 691.6h0M965.4 691.7h0M967.5 691.8h0M987.3 692.4h0M596.4 692.9h0M609.5 692.9h0M611.4 693.3h0M620.7 693.2h0M638.7 693.0h0M889.2 693.3h0M933.8 692.7h0M935.7 693.3h0M973.1 693.0h0M985.4 692.7h0M999.1 692.7h0M1008.1 693.3h0M1023.0 692.7h0M619.1 694.2h0M627.3 694.0h0M640.3 693.9h0M641.8 694.1h0M646.6 694.4h0M890.8 693.9h0M893.3 693.8h0M930.2 694.0h0M942.0 693.6h0M960.4 694.1h0M970.1 693.7h0M971.4 694.1h0M987.8 694.0h0M1017.8 694.1h0M610.1 695.0h0M647.5 695.5h0M894.0 695.1h0M931.2 694.8h0M933.7 695.1h0M936.8 694.9h0M940.9 695.5h0M950.8 695.3h0M975.7 694.6h0M992.5 695.3h0M998.3 695.4h0M1027.7 695.3h0M599.2 696.4h0M605.5 695.9h0M616.5 696.0h0M632.1 695.6h0M639.0 696.2h0M644.0 696.4h0M888.4 696.4h0M895.0 695.8h0M961.2 695.8h0M988.2 696.0h0M1015.6 695.5h0M611.9 696.9h0M624.2 696.6h0M627.2 697.0h0M645.3 696.6h0M649.2 697.4h0M896.0 696.6h0M946.4 697.3h0M962.8 697.5h0M975.7 697.1h0M1021.7 696.9h0M614.9 698.0h0M621.1 698.4h0M646.6 697.8h0M660.2 698.0h0M887.3 698.2h0M895.1 697.8h0M897.3 698.1h0M931.0 697.9h0M1006.2 697.9h0M1012.1 698.2h0M1041.8 697.9h0M600.0 699.4h0M609.9 699.1h0M628.8 698.5h0M631.3 698.8h0M651.0 698.9h0M938.0 699.3h0M942.5 698.9h0M949.6 699.4h0M954.9 699.0h0M969.3 699.0h0M973.4 699.1h0M992.2 698.9h0M1001.6 699.5h0M1025.7 698.7h0M630.4 700.5h0M887.7 699.6h0M889.4 700.3h0M891.3 700.2h0M895.1 700.5h0M897.5 700.2h0M946.2 699.9h0M972.0 699.9h0M991.1 700.1h0M1006.8 700.4h0M1011.9 699.5h0M614.8 700.8h0M618.5 700.7h0M931.5 700.7h0M979.1 701.1h0M1018.9 701.3h0M1021.8 700.7h0M623.4 701.7h0M887.1 702.2h0M889.3 701.8h0M900.1 702.4h0M947.9 702.1h0M965.6 701.8h0M981.7 702.1h0M992.7 702.1h0M604.1 702.5h0M607.8 703.4h0M610.7 702.8h0M626.4 703.1h0M949.8 703.2h0M968.4 702.9h0M973.7 702.9h0M978.2 703.1h0M984.2 703.1h0M991.9 703.1h0M1003.7 702.7h0M611.0 704.4h0M886.2 703.5h0M891.5 703.9h0M892.8 704.4h0M897.4 703.9h0M899.8 704.4h0M914.8 704.2h0M948.5 703.9h0M955.1 703.7h0M979.8 704.4h0M1008.1 704.3h0M1017.4 703.6h0M609.1 705.1h0M661.9 704.7h0M886.5 704.9h0M968.2 705.3h0M974.2 704.7h0M986.3 704.6h0M998.9 704.6h0M1003.5 704.6h0M1019.7 704.5h0M605.0 706.0h0M893.7 706.5h0M930.3 705.7h0M962.1 706.1h0M984.3 706.1h0M1005.9 706.3h0M1025.1 706.4h0M638.5 706.8h0M662.0 706.9h0M665.1 707.5h0M890.6 706.5h0M899.9 707.4h0M903.3 706.9h0M904.5 706.9h0M953.6 707.0h0M973.5 707.2h0M1013.2 707.5h0M1021.6 706.8h0M1022.8 707.3h0M890.3 708.1h0M896.2 708.4h0M898.5 707.5h0M902.4 707.7h0M930.1 708.3h0M966.8 708.3h0M980.4 707.6h0M988.0 707.5h0M999.2 707.7h0M1009.8 707.8h0M607.7 709.1h0M659.1 709.0h0M899.7 709.5h0M901.1 709.4h0M904.0 709.3h0M936.3 709.3h0M938.2 708.8h0M946.6 709.1h0M951.9 709.3h0M964.0 708.6h0M1011.3 708.8h0M1021.5 709.1h0M624.5 710.5h0M657.0 709.8h0M660.1 709.8h0M663.2 710.1h0M889.3 710.2h0M930.6 709.7h0M958.8 709.6h0M980.1 710.1h0M605.6 710.7h0M608.0 711.0h0M649.4 710.5h0M657.8 710.8h0M890.8 711.5h0M902.3 711.0h0M947.2 710.8h0M982.0 711.2h0M984.1 711.3h0M988.5 711.3h0M1014.0 711.4h0M1021.9 711.1h0M1031.5 711.3h0M652.1 711.8h0M897.9 712.5h0M901.1 711.6h0M948.9 711.6h0M998.0 711.9h0M1002.8 711.9h0M1006.9 711.9h0M593.2 712.5h0M605.0 713.0h0M650.9 712.6h0M653.9 713.2h0M655.4 712.7h0M659.1 712.7h0M664.6 713.4h0M666.2 713.2h0M667.4 713.4h0M889.8 713.4h0M899.1 712.7h0M1013.5 712.5h0M891.7 713.5h0M895.1 714.3h0M899.2 714.4h0M929.1 713.8h0M934.5 714.4h0M939.2 713.6h0M955.1 714.3h0M962.1 713.7h0M993.5 713.6h0M996.6 713.6h0M1014.5 714.1h0M1016.5 713.8h0M593.9 715.4h0M662.2 715.2h0M666.0 714.8h0M947.3 714.7h0M1000.4 715.0h0M665.5 716.4h0M894.1 715.6h0M895.4 715.7h0M946.6 715.8h0M989.7 716.3h0M1018.3 715.7h0M593.2 717.2h0M898.8 716.6h0M925.4 717.0h0M948.3 717.5h0M953.5 717.0h0M967.4 717.2h0M977.1 716.9h0M985.5 716.8h0M990.3 717.4h0M999.8 717.0h0M1042.3 716.9h0M590.6 718.5h0M664.6 717.9h0M896.7 717.5h0M921.5 718.5h0M978.5 718.3h0M663.7 718.7h0M718.0 719.2h0M723.8 718.6h0M923.0 719.0h0M947.8 719.1h0M955.2 719.1h0M964.0 718.8h0M587.9 719.7h0M664.4 720.4h0M921.7 719.9h0M958.8 719.6h0M972.7 720.2h0M990.4 719.6h0M998.7 720.2h0M652.1 720.6h0M939.1 720.6h0M949.3 720.9h0M970.8 720.6h0M998.3 721.4h0M336.6 722.1h0M341.0 722.2h0M356.2 721.9h0M588.3 722.4h0M667.5 722.0h0M918.4 722.4h0M921.2 721.7h0M931.7 722.2h0M964.2 722.5h0M979.0 721.9h0M995.8 721.9h0M1006.3 722.3h0M1010.3 721.7h0M1016.4 721.8h0M1030.7 722.4h0M349.2 723.3h0M586.7 723.3h0M666.8 723.1h0M910.4 723.2h0M915.1 722.8h0M931.0 723.4h0M944.1 723.2h0M960.2 723.1h0M332.0 724.4h0M333.4 724.5h0M346.3 723.7h0M911.3 724.2h0M934.9 723.6h0M942.4 724.4h0M945.5 723.8h0M948.0 724.4h0M959.2 723.9h0M962.8 724.4h0M971.3 723.9h0M998.9 723.7h0M1000.4 724.0h0M1007.3 723.9h0M586.3 724.8h0M665.9 725.3h0M667.6 724.9h0M912.8 725.5h0M919.4 724.9h0M929.2 725.2h0M968.4 725.5h0M984.8 724.5h0M1008.8 724.8h0M1014.9 724.9h0M342.8 725.7h0M351.4 725.5h0M585.0 726.2h0M670.1 725.9h0M962.1 725.7h0M997.6 725.9h0M1004.3 725.8h0M1010.6 726.4h0M340.7 727.3h0M345.7 727.4h0M664.9 726.8h0M932.3 726.7h0M940.0 726.7h0M945.6 727.5h0M948.6 727.3h0M960.6 726.7h0M970.2 726.6h0M994.3 726.6h0M1006.5 727.2h0M331.0 727.9h0M337.9 727.9h0M363.5 728.3h0M372.9 728.1h0M584.3 727.9h0M666.8 727.5h0M928.1 728.0h0M930.4 727.7h0M953.5 728.0h0M967.2 727.8h0M989.8 727.8h0M998.4 728.3h0M1014.4 727.7h0M336.7 728.9h0M343.2 729.0h0M347.3 729.3h0M354.0 728.9h0M360.8 729.5h0M368.4 729.4h0M667.7 728.9h0M670.0 729.2h0M900.1 728.8h0M926.9 729.1h0M973.8 729.3h0M1001.1 729.0h0M1006.6 729.4h0M1008.1 729.2h0M1013.9 729.2h0M324.7 730.4h0M327.3 729.8h0M331.9 730.4h0M354.1 730.4h0M362.5 730.2h0M370.9 730.5h0M583.2 729.7h0M904.1 729.7h0M940.7 729.7h0M949.5 729.8h0M957.0 729.9h0M959.8 730.0h0M966.5 729.9h0M978.2 730.2h0M981.4 730.1h0M333.7 730.9h0M365.2 730.9h0M387.5 731.2h0M666.3 730.7h0M670.0 731.4h0M905.8 731.2h0M928.7 731.2h0M937.5 730.9h0M939.4 730.5h0M958.3 731.4h0M985.7 730.7h0M990.6 731.1h0M1004.2 730.8h0M345.1 732.4h0M354.8 732.2h0M582.8 731.6h0M668.5 732.0h0M904.1 732.4h0M914.4 731.8h0M940.3 732.3h0M951.2 732.0h0M961.1 731.7h0M984.9 731.9h0M997.2 731.7h0M1007.9 731.8h0M1012.3 731.9h0M323.9 732.6h0M340.9 733.1h0M351.3 733.4h0M368.6 732.6h0M370.0 733.0h0M374.0 733.3h0M381.2 733.3h0M669.4 733.3h0M671.4 733.3h0M901.4 733.2h0M910.2 732.9h0M921.0 733.0h0M951.7 733.3h0M955.7 733.2h0M960.1 733.3h0M980.3 732.8h0M1002.0 733.2h0M335.7 734.1h0M345.8 734.0h0M668.5 734.5h0M925.4 734.2h0M936.2 734.1h0M947.2 733.6h0M953.0 734.1h0M973.7 734.5h0M974.7 733.6h0M976.0 734.2h0M984.6 734.1h0M996.4 734.4h0M1009.4 734.0h0M329.4 735.4h0M581.4 735.3h0M582.9 734.6h0M911.7 735.2h0M917.2 734.7h0M934.1 734.7h0M938.1 734.6h0M943.5 735.2h0M961.9 735.1h0M963.3 735.0h0M995.0 735.1h0M1006.0 735.1h0M1015.1 734.9h0M1017.1 734.6h0M323.5 735.9h0M355.9 736.0h0M362.3 736.1h0M390.6 736.5h0M904.1 735.6h0M926.9 736.1h0M955.2 736.2h0M957.7 736.1h0M965.8 735.8h0M337.5 736.8h0M371.0 737.5h0M375.8 736.6h0M581.2 737.2h0M901.3 736.8h0M948.9 736.8h0M967.3 737.0h0M975.5 737.2h0M982.5 737.2h0M1015.5 737.4h0M328.9 738.0h0M336.7 737.8h0M353.5 737.9h0M373.0 738.4h0M908.6 738.1h0M912.0 738.0h0M917.8 737.8h0M932.2 738.2h0M1002.2 737.6h0M321.8 738.7h0M326.0 739.2h0M338.1 738.8h0M342.4 739.3h0M349.8 739.0h0M354.7 739.0h0M578.6 739.2h0M579.8 738.5h0M905.1 739.2h0M930.1 739.1h0M948.5 739.0h0M955.9 739.2h0M982.6 739.0h0M993.9 738.6h0M1006.5 738.9h0M333.5 739.6h0M353.5 739.6h0M363.2 739.9h0M370.8 739.6h0M377.0 739.6h0M385.4 739.6h0M909.2 740.3h0M928.0 740.4h0M953.9 739.5h0M957.5 739.6h0M969.8 739.8h0M997.3 740.0h0M1007.4 740.4h0M321.6 741.4h0M339.4 740.6h0M579.0 740.7h0M898.5 740.6h0M905.8 740.8h0M907.6 741.1h0M929.8 740.9h0M932.9 740.8h0M938.6 740.5h0M940.2 741.0h0M954.9 741.1h0M966.6 740.7h0M979.0 740.8h0M999.2 741.1h0M1009.6 741.2h0M343.1 741.9h0M358.1 742.3h0M368.5 742.4h0M376.9 742.3h0M577.9 742.3h0M903.0 741.9h0M956.1 742.4h0M972.5 742.3h0M994.8 742.4h0M322.9 743.0h0M324.4 742.9h0M329.8 742.8h0M332.4 743.4h0M354.6 743.0h0M372.3 742.7h0M576.4 742.8h0M909.1 742.5h0M930.2 742.7h0M939.6 742.6h0M944.4 742.8h0M946.9 743.1h0M952.0 743.1h0M953.2 743.0h0M960.4 743.1h0M964.6 742.7h0M970.3 742.7h0M981.0 742.7h0M991.7 743.2h0M997.9 743.1h0M999.5 743.1h0M331.2 744.0h0M334.5 743.9h0M338.6 743.8h0M347.9 743.9h0M353.3 744.0h0M366.0 744.3h0M372.6 744.2h0M907.7 744.5h0M941.5 743.7h0M944.5 744.5h0M1008.2 744.2h0M1009.6 743.7h0M322.5 744.5h0M344.4 745.5h0M351.0 744.6h0M359.0 744.6h0M367.8 744.5h0M904.2 744.6h0M921.1 745.0h0M967.8 744.7h0M981.0 744.5h0M983.5 744.7h0M330.9 745.8h0M352.5 746.2h0M374.2 746.3h0M923.5 746.5h0M926.8 745.7h0M933.0 746.4h0M962.3 746.4h0M973.3 746.3h0M998.2 745.9h0M1000.5 745.6h0M323.7 747.0h0M334.1 747.4h0M341.1 746.7h0M350.8 747.4h0M361.4 746.7h0M367.1 746.6h0M575.0 747.1h0M929.4 746.9h0M942.3 747.0h0M958.2 747.3h0M336.6 748.4h0M343.1 747.9h0M344.6 748.0h0M373.6 748.0h0M907.5 748.1h0M929.2 748.2h0M936.9 747.7h0M952.6 748.2h0M971.1 748.3h0M980.9 748.3h0M994.7 748.4h0M325.7 749.3h0M329.7 749.1h0M367.0 749.2h0M369.2 749.2h0M909.3 749.4h0M948.7 748.5h0M964.4 748.6h0M971.9 749.4h0M341.7 749.9h0M351.7 749.9h0M358.2 750.4h0M379.2 750.0h0M910.8 749.5h0M918.4 750.3h0M943.6 750.5h0M949.6 750.0h0M957.8 750.4h0M959.1 750.2h0M1000.8 750.4h0M324.3 750.5h0M337.5 750.7h0M339.9 751.2h0M352.6 750.8h0M356.2 751.1h0M360.6 751.3h0M365.4 750.7h0M377.1 750.6h0M932.0 751.1h0M934.5 751.5h0M939.1 750.5h0M973.4 750.8h0M994.1 750.6h0M334.0 752.0h0M357.8 751.6h0M365.7 751.9h0M373.6 752.2h0M914.6 751.8h0M941.1 752.2h0M950.0 751.5h0M959.6 752.3h0M965.3 752.3h0M968.6 752.1h0M986.5 751.8h0M989.4 752.1h0M995.9 751.7h0M1000.9 752.4h0M324.6 752.5h0M337.8 752.7h0M341.0 753.1h0M360.0 752.6h0M361.3 752.9h0M926.7 752.7h0M1003.0 752.9h0M338.5 754.3h0M914.2 753.9h0M920.7 754.3h0M944.6 754.4h0M951.2 753.6h0M994.0 754.3h0M1001.3 753.9h0M1021.2 754.1h0M324.8 754.8h0M363.5 754.9h0M369.1 755.2h0M373.8 755.1h0M933.7 754.8h0M955.1 755.4h0M956.6 755.3h0M962.8 754.6h0M964.4 754.7h0M969.7 755.0h0M976.0 755.4h0M999.1 755.2h0M333.7 755.5h0M351.8 756.3h0M370.4 755.6h0M378.1 756.2h0M944.2 756.5h0M977.9 755.8h0M997.4 756.4h0M335.3 757.3h0M336.7 756.9h0M366.6 756.8h0M370.6 757.1h0M903.2 757.2h0M920.9 757.3h0M934.3 756.5h0M948.2 757.0h0M988.4 757.4h0M991.1 757.3h0M998.8 757.4h0M369.4 757.7h0M371.8 757.9h0M1012.5 758.0h0M328.1 758.8h0M350.7 758.9h0M934.3 758.8h0M936.3 759.1h0M949.1 758.9h0M951.3 759.4h0M955.9 759.1h0M993.5 758.5h0M997.4 759.3h0M1000.9 759.1h0M325.2 759.6h0M331.6 760.2h0M340.6 760.5h0M375.5 759.7h0M921.0 759.8h0M923.6 759.7h0M930.4 759.5h0M939.3 759.8h0M953.6 759.5h0M996.2 759.6h0M329.6 761.4h0M347.8 760.5h0M372.5 761.0h0M927.4 760.9h0M956.3 761.3h0M963.9 760.8h0M968.2 761.0h0M987.3 760.9h0M322.3 762.3h0M361.7 761.9h0M368.2 761.7h0M909.2 762.4h0M913.9 762.0h0M933.2 762.1h0M941.7 761.7h0M959.7 762.1h0M966.4 762.1h0M973.0 762.0h0M979.5 762.0h0M982.2 761.7h0M995.7 762.1h0M1001.4 762.2h0M327.1 762.8h0M333.3 763.3h0M342.0 762.9h0M349.4 763.1h0M379.7 762.6h0M917.3 762.9h0M920.9 763.2h0M944.8 762.6h0M981.6 763.5h0M985.8 763.4h0M994.5 762.9h0M324.0 764.0h0M334.9 763.9h0M355.4 764.4h0M911.5 763.7h0M926.0 763.7h0M951.8 764.5h0M972.9 764.5h0M990.1 763.7h0M997.9 763.7h0M327.5 765.2h0M335.9 765.0h0M340.8 765.0h0M342.5 765.4h0M370.7 764.9h0M380.9 764.8h0M544.7 764.9h0M548.8 765.2h0M552.5 765.4h0M555.5 765.2h0M928.4 764.7h0M944.0 765.4h0M978.2 764.7h0M995.4 765.2h0M352.7 765.7h0M356.8 766.5h0M362.1 765.8h0M394.8 765.6h0M538.5 766.3h0M546.4 766.1h0M558.5 765.9h0M571.5 766.0h0M906.3 766.0h0M936.3 766.4h0M951.8 766.4h0M983.7 765.9h0M989.5 766.0h0M322.7 767.2h0M336.8 767.3h0M536.9 767.3h0M542.0 766.8h0M543.5 766.9h0M551.1 767.2h0M554.7 767.1h0M557.2 767.3h0M923.4 766.8h0M927.4 766.9h0M939.6 767.2h0M952.5 767.4h0M963.3 767.1h0M973.1 767.0h0M985.6 766.8h0M1005.0 766.7h0M344.4 768.3h0M348.6 768.3h0M357.4 767.8h0M374.0 767.7h0M546.8 767.9h0M549.9 768.1h0M560.3 767.8h0M932.0 768.2h0M965.8 767.9h0M1001.8 767.9h0M322.0 768.6h0M325.0 768.9h0M351.2 769.3h0M357.5 769.0h0M370.1 768.8h0M379.8 768.7h0M382.4 768.9h0M536.9 768.9h0M541.5 769.0h0M547.9 769.5h0M551.0 769.4h0M970.9 768.9h0M979.4 769.4h0M988.8 769.1h0M990.9 769.2h0M327.0 769.8h0M329.1 769.8h0M336.5 769.9h0M340.1 769.5h0M349.2 770.2h0M545.1 769.7h0M560.4 769.8h0M563.3 770.1h0M903.7 770.2h0M906.3 769.7h0M911.1 770.2h0M921.6 770.0h0M938.0 769.6h0M940.0 770.4h0M946.3 769.5h0M951.2 770.4h0M953.8 769.8h0M990.2 770.3h0M992.3 770.1h0M332.0 771.4h0M333.6 770.9h0M340.9 771.4h0M344.0 770.8h0M372.6 770.6h0M381.8 770.8h0M539.6 770.8h0M548.9 771.2h0M558.5 771.4h0M906.5 771.4h0M932.8 771.0h0M942.2 771.2h0M963.0 771.4h0M974.3 771.0h0M983.9 770.8h0M318.2 771.7h0M346.4 771.6h0M348.3 771.7h0M352.1 772.1h0M354.5 772.0h0M367.2 772.3h0M375.1 772.3h0M537.7 772.1h0M544.0 772.0h0M547.8 772.5h0M551.2 772.0h0M563.7 772.5h0M929.1 771.8h0M943.6 771.8h0M950.6 771.8h0M326.5 772.6h0M328.9 773.5h0M374.1 773.0h0M379.6 773.2h0M385.7 773.4h0M389.6 772.9h0M543.0 772.7h0M555.8 772.8h0M905.0 772.6h0M922.6 772.6h0M941.0 772.5h0M960.8 772.7h0M979.8 772.9h0M981.5 773.0h0M316.7 773.6h0M318.3 774.2h0M337.8 773.6h0M347.6 773.9h0M364.2 773.8h0M393.8 774.0h0M540.1 773.6h0M548.5 773.8h0M910.9 773.7h0M918.2 773.7h0M934.6 773.8h0M946.9 774.3h0M948.7 774.0h0M970.6 774.2h0M996.7 773.9h0M315.1 775.0h0M320.8 775.4h0M326.0 775.4h0M353.7 774.5h0M380.3 774.6h0M549.9 775.0h0M555.9 774.9h0M557.2 774.9h0M565.3 774.8h0M905.2 775.4h0M909.2 774.5h0M914.3 774.7h0M927.4 775.4h0M948.9 775.2h0M962.2 774.7h0M976.7 774.9h0M313.3 776.1h0M327.0 776.4h0M331.2 776.5h0M372.1 776.4h0M376.8 775.8h0M390.1 775.6h0M547.7 776.3h0M551.0 776.3h0M553.8 776.3h0M588.3 776.2h0M909.5 776.3h0M917.8 776.0h0M325.9 777.4h0M346.3 776.9h0M348.2 776.6h0M369.3 777.3h0M546.5 776.9h0M567.0 777.1h0M795.5 777.0h0M796.7 777.2h0M797.9 776.9h0M924.5 777.2h0M926.9 777.4h0M953.7 777.0h0M958.5 776.8h0M310.7 778.0h0M331.7 778.3h0M353.3 777.5h0M360.7 777.8h0M564.7 778.0h0M598.3 777.5h0M910.3 778.4h0M949.8 778.2h0M955.2 778.3h0M309.9 779.2h0M345.3 778.9h0M356.7 779.1h0M377.7 779.5h0M392.8 779.4h0M395.8 779.2h0M547.1 779.4h0M550.1 779.2h0M565.2 779.4h0M799.3 778.5h0M916.3 779.3h0M920.4 779.1h0M357.4 780.3h0M362.9 779.7h0M560.6 780.3h0M564.2 780.2h0M913.7 779.8h0M321.8 780.6h0M345.2 780.6h0M353.0 781.1h0M356.0 781.4h0M365.3 780.5h0M369.6 781.2h0M387.5 780.6h0M392.9 780.6h0M549.9 781.2h0M791.4 781.1h0M795.2 780.6h0M796.5 781.4h0M799.7 781.0h0M327.9 782.2h0M333.1 781.9h0M344.5 781.6h0M346.0 782.1h0M349.2 781.8h0M353.5 782.1h0M362.3 781.8h0M386.6 782.0h0M388.8 781.6h0M552.3 781.5h0M560.2 781.7h0M789.2 782.2h0M793.2 782.1h0M798.1 782.0h0M358.3 782.9h0M364.2 783.3h0M379.0 783.4h0M381.4 783.4h0M554.3 782.9h0M557.0 782.9h0M791.7 782.8h0M797.0 782.5h0M307.6 783.8h0M323.8 784.2h0M327.0 783.6h0M338.9 783.7h0M340.0 784.1h0M358.4 784.5h0M361.1 783.9h0M370.9 783.7h0M387.4 783.8h0M603.3 784.2h0M790.8 783.7h0M800.0 784.1h0M306.8 784.7h0M315.9 785.0h0M326.1 784.7h0M334.6 785.1h0M343.6 784.7h0M355.1 784.7h0M788.0 784.5h0M799.0 785.4h0M319.5 786.1h0M325.0 785.7h0M380.2 785.7h0M388.0 785.8h0M394.1 785.8h0M604.5 785.5h0M788.7 786.2h0M791.5 786.3h0M794.7 785.8h0M797.3 785.7h0M323.2 786.9h0M331.7 787.1h0M337.3 786.8h0M372.2 787.4h0M376.0 787.1h0M391.7 787.3h0M786.8 786.8h0M798.4 787.5h0M310.0 787.6h0M354.1 788.1h0M394.9 787.6h0M603.3 788.3h0M789.6 787.9h0M792.1 788.0h0M329.3 789.0h0M333.5 789.3h0M359.2 789.1h0M374.1 789.1h0M379.5 788.7h0M394.8 789.1h0M793.9 788.8h0M797.0 788.6h0M798.5 789.2h0M315.1 789.9h0M326.2 790.4h0M338.8 790.0h0M348.9 789.9h0M353.3 790.5h0M356.0 789.6h0M740.2 790.3h0M793.3 789.8h0M799.0 790.3h0M306.1 791.3h0M322.5 791.5h0M338.2 791.4h0M348.5 791.5h0M357.4 790.5h0M360.8 790.8h0M796.7 791.1h0M345.2 791.6h0M353.6 792.5h0M359.2 791.8h0M374.7 792.4h0M546.0 792.0h0M738.3 791.7h0M799.6 791.7h0M304.8 793.3h0M315.5 793.0h0M323.5 792.9h0M338.0 793.3h0M341.7 793.2h0M344.7 792.9h0M348.1 793.1h0M366.7 793.1h0M368.4 792.7h0M371.1 792.5h0M379.2 792.7h0M741.3 792.7h0M744.8 793.2h0M796.8 792.7h0M798.0 792.7h0M310.7 794.1h0M318.1 793.6h0M356.7 794.2h0M358.4 794.2h0M376.1 794.4h0M378.2 793.5h0M384.8 794.4h0M392.9 793.6h0M545.0 794.5h0M317.7 795.2h0M323.4 794.9h0M338.0 795.3h0M382.6 795.2h0M388.5 795.4h0M333.7 795.8h0M339.1 795.8h0M345.8 795.6h0M363.1 795.8h0M381.3 795.9h0M738.4 795.6h0M324.1 797.2h0M342.7 797.4h0M347.2 796.7h0M365.6 797.3h0M366.8 797.4h0M375.9 796.6h0M393.8 797.2h0M307.4 797.9h0M336.2 798.0h0M344.6 797.8h0M363.2 797.7h0M369.0 798.4h0M378.5 797.7h0M386.5 797.7h0M301.8 799.0h0M304.6 799.3h0M316.9 798.6h0M323.0 798.6h0M347.4 798.7h0M357.0 799.1h0M379.4 799.4h0M335.8 799.6h0M338.8 799.6h0M344.1 800.1h0M345.3 799.6h0M365.6 800.2h0M377.3 799.8h0M389.4 800.4h0M392.2 799.6h0M315.0 801.4h0M325.9 801.1h0M373.1 800.9h0M318.6 802.1h0M322.4 801.9h0M346.9 802.3h0M355.8 801.6h0M360.0 801.7h0M367.2 801.7h0M369.0 802.5h0M373.9 802.4h0M381.7 802.2h0M383.3 801.9h0M300.8 802.8h0M311.7 803.0h0M361.3 802.9h0M372.1 803.4h0M395.1 803.2h0M314.7 803.8h0M329.1 803.8h0M337.4 804.2h0M377.9 803.9h0M391.9 804.0h0M316.0 805.2h0M340.9 804.7h0M368.9 804.9h0M373.2 805.4h0M381.2 805.4h0M388.9 805.5h0M311.5 806.0h0M327.7 806.1h0M354.2 805.7h0M356.9 806.4h0M358.4 806.0h0M390.3 806.3h0M295.4 807.4h0M314.7 806.8h0M325.0 806.9h0M344.6 807.0h0M353.2 806.6h0M361.9 807.2h0M364.9 807.1h0M370.8 806.6h0M380.4 807.2h0M392.0 806.7h0M296.8 807.9h0M299.2 808.4h0M302.1 807.7h0M311.8 808.1h0M318.4 808.2h0M337.6 808.4h0M328.0 809.1h0M339.9 809.1h0M359.7 809.3h0M365.1 808.5h0M370.8 808.5h0M383.1 809.4h0M393.4 808.7h0M397.2 808.7h0M295.1 809.5h0M301.4 810.4h0M308.3 809.8h0M311.4 809.6h0M335.3 810.4h0M336.5 810.2h0M347.6 809.6h0M355.0 810.0h0M377.9 809.7h0M387.7 809.7h0M389.4 810.2h0M393.7 810.2h0M296.7 810.5h0M310.4 810.7h0M333.3 811.2h0M349.9 811.2h0M353.6 810.8h0M357.8 811.3h0M367.3 811.4h0M382.0 810.6h0M384.2 810.5h0M301.3 811.7h0M344.1 811.7h0M353.0 812.2h0M355.2 811.9h0M358.6 812.4h0M380.5 812.2h0M295.7 813.1h0M297.7 813.3h0M304.5 812.7h0M311.7 812.6h0M322.7 812.6h0M354.5 813.4h0M370.6 813.1h0M377.7 813.2h0M388.6 812.5h0M394.8 812.5h0M725.6 813.3h0M306.9 814.4h0M316.1 813.9h0M331.5 814.1h0M335.6 813.9h0M339.0 813.8h0M352.4 813.5h0M356.1 814.2h0M360.3 814.1h0M365.3 813.6h0M382.1 813.5h0M391.5 814.3h0M393.8 813.7h0M408.3 813.5h0M291.3 815.4h0M348.8 815.1h0M365.8 815.1h0M371.3 815.2h0M377.4 814.9h0M292.7 816.1h0M298.2 815.7h0M306.5 815.8h0M308.8 816.4h0M313.0 815.9h0M316.4 816.1h0M319.1 816.1h0M326.3 816.2h0M338.3 816.0h0M380.7 815.8h0M391.3 815.9h0M398.9 816.4h0M406.9 815.9h0M290.5 816.7h0M303.7 817.3h0M321.8 816.7h0M329.8 816.6h0M334.5 817.2h0M357.3 816.8h0M368.7 816.9h0M371.7 816.7h0M395.8 817.3h0M315.1 818.0h0M319.5 818.5h0M348.6 817.5h0M350.5 817.9h0M352.6 818.0h0M371.3 817.9h0M399.2 818.0h0M401.1 818.0h0M402.9 817.8h0M296.9 818.8h0M328.4 818.8h0M335.2 818.7h0M353.9 819.4h0M376.7 819.1h0M407.8 818.9h0M307.5 820.2h0M311.4 819.8h0M313.3 819.8h0M316.6 820.2h0M332.1 820.3h0M363.8 820.4h0M374.6 819.7h0M724.4 819.5h0M289.0 821.5h0M302.7 821.0h0M311.9 821.4h0M324.2 820.8h0M330.6 821.1h0M337.5 820.8h0M355.7 821.0h0M369.1 821.2h0M380.5 821.1h0M385.6 820.6h0M389.2 820.6h0M397.1 821.3h0M402.2 821.1h0M404.2 820.6h0M425.0 820.8h0M290.2 822.1h0M313.0 822.0h0M318.8 821.7h0M329.3 821.7h0M362.5 822.0h0M366.7 821.7h0M287.6 822.6h0M301.4 822.9h0M305.9 822.6h0M370.1 822.8h0M371.4 823.4h0M379.3 823.0h0M385.4 823.1h0M397.6 822.6h0M711.4 822.9h0M716.7 822.8h0M305.6 824.4h0M309.5 824.0h0M313.7 823.7h0M323.5 823.6h0M327.2 824.4h0M337.6 823.8h0M339.4 823.7h0M357.9 824.2h0M389.2 824.2h0M390.2 823.6h0M716.0 823.9h0M299.1 825.1h0M321.0 825.0h0M382.4 824.6h0M398.6 824.8h0M709.4 824.6h0M712.1 825.3h0M288.6 825.6h0M291.8 825.7h0M292.7 826.5h0M308.0 825.7h0M337.2 825.7h0M349.8 825.9h0M353.6 826.3h0M392.2 826.1h0M286.7 827.3h0M290.6 827.4h0M305.8 827.2h0M315.8 827.5h0M334.9 827.5h0M343.5 827.2h0M347.3 827.0h0M351.5 827.2h0M356.1 826.6h0M389.0 826.9h0M708.6 827.1h0M714.9 826.7h0M294.4 828.3h0M296.0 828.5h0M298.4 827.8h0M308.1 828.0h0M317.6 828.3h0M325.1 827.9h0M331.7 828.1h0M355.2 828.1h0M370.2 828.4h0M707.1 828.5h0M713.8 828.3h0M717.8 828.2h0M319.5 828.6h0M330.7 829.1h0M352.5 829.1h0M363.7 829.2h0M373.1 828.6h0M379.1 828.9h0M420.8 829.2h0M719.0 828.8h0M293.5 830.1h0M306.7 830.3h0M312.5 829.8h0M325.9 829.8h0M349.4 830.1h0M392.0 830.2h0M716.2 829.8h0M717.8 829.7h0M291.1 830.9h0M300.5 830.5h0M317.7 830.7h0M330.7 831.2h0M344.8 831.4h0M351.0 831.5h0M359.5 831.2h0M389.2 830.9h0M410.4 831.2h0M709.4 830.6h0M712.0 831.1h0M718.7 830.6h0M300.4 832.5h0M301.7 832.3h0M305.8 831.6h0M310.3 832.3h0M315.8 831.6h0M320.7 832.1h0M332.5 831.6h0M338.6 831.6h0M348.4 831.7h0M354.6 832.0h0M366.9 831.6h0M371.1 832.4h0M376.7 831.9h0M394.3 832.3h0M431.2 832.3h0M714.2 831.7h0M293.7 832.7h0M308.7 832.9h0M315.2 833.4h0M316.8 833.2h0M320.4 833.3h0M333.0 833.1h0M340.2 833.5h0M348.1 833.3h0M351.6 833.2h0M352.9 833.0h0M364.4 833.0h0M374.0 832.8h0M380.4 833.4h0M383.9 832.7h0M702.8 833.2h0M717.9 832.8h0M312.2 833.9h0M357.6 833.8h0M391.5 833.8h0M704.0 834.1h0M706.0 833.7h0M310.6 835.4h0M314.0 834.8h0M327.1 834.5h0M333.8 834.9h0M378.0 834.7h0M701.9 835.4h0M707.4 834.8h0M710.4 835.1h0M328.8 835.9h0M332.6 835.8h0M344.1 836.1h0M346.1 835.6h0M347.6 835.8h0M351.4 835.6h0M420.0 836.4h0M423.9 835.7h0M698.7 835.6h0M707.0 836.0h0M304.7 836.6h0M328.3 837.0h0M334.3 836.9h0M338.4 837.3h0M350.4 837.4h0M358.0 836.7h0M373.6 836.9h0M388.6 837.3h0M702.4 836.7h0M709.5 837.2h0M300.4 838.2h0M306.4 838.4h0M356.7 837.7h0M362.6 838.4h0M369.8 837.8h0M417.5 838.4h0M424.4 838.1h0M430.3 838.2h0M436.4 838.1h0M708.2 838.3h0M710.7 838.1h0M309.5 838.6h0M342.2 839.1h0M343.6 838.8h0M345.4 838.6h0M365.5 839.3h0M439.5 838.9h0M701.7 838.6h0M703.6 839.3h0M712.3 839.3h0M288.5 840.5h0M290.0 840.4h0M303.2 839.8h0M305.0 840.0h0M311.6 839.6h0M323.2 839.5h0M361.6 839.5h0M370.2 839.8h0M387.2 839.7h0M388.5 840.4h0M421.8 840.5h0M432.3 840.0h0M435.5 840.2h0M291.0 841.4h0M314.6 840.6h0M322.2 840.7h0M342.6 840.9h0M349.8 841.3h0M352.6 840.6h0M356.4 841.0h0M377.2 840.7h0M386.7 841.2h0M418.7 840.6h0M446.1 841.3h0M449.0 840.6h0M696.7 841.0h0M702.0 840.7h0M710.5 841.3h0M717.1 840.7h0M718.9 841.0h0M309.0 842.0h0M320.8 841.7h0M324.4 841.9h0M372.4 841.8h0M378.0 842.2h0M381.0 841.9h0M604.2 841.7h0M694.3 842.2h0M698.9 842.4h0M713.7 842.1h0M720.0 842.1h0M735.0 841.7h0M310.9 843.4h0M313.1 842.6h0M325.5 842.9h0M328.1 842.8h0M330.8 843.0h0M334.7 843.2h0M338.3 843.0h0M362.8 843.3h0M386.3 842.9h0M699.7 843.3h0M707.7 843.0h0M711.6 842.7h0M291.8 843.8h0M295.4 843.8h0M313.8 843.8h0M321.2 844.1h0M345.5 844.3h0M350.6 844.1h0M357.8 844.2h0M365.7 844.4h0M367.3 844.2h0M376.0 844.5h0M379.1 844.4h0M426.8 844.3h0M441.9 844.1h0M719.8 844.0h0M721.8 843.9h0M356.4 845.0h0M361.1 844.5h0M424.2 845.3h0M430.9 845.1h0M437.8 844.7h0M449.2 845.0h0M708.6 844.9h0M724.0 845.2h0M300.8 845.6h0M341.4 845.5h0M381.3 845.7h0M383.7 846.2h0M385.1 845.9h0M400.0 845.8h0M445.5 845.7h0M600.0 845.8h0M696.3 846.4h0M711.2 846.0h0M721.1 846.2h0M295.1 847.2h0M304.6 846.6h0M306.9 847.3h0M313.4 846.9h0M377.9 847.3h0M387.0 847.1h0M434.5 846.7h0M436.8 847.5h0M691.8 847.0h0M703.0 847.4h0M714.2 847.2h0M723.7 846.8h0M302.8 847.9h0M309.9 847.7h0M332.8 847.6h0M352.0 848.5h0M355.8 848.3h0M372.3 847.7h0M375.4 847.6h0M384.5 847.7h0M435.4 848.0h0M439.0 848.1h0M443.1 847.8h0M603.3 848.3h0M700.5 847.8h0M724.8 847.9h0M726.8 848.0h0M293.5 849.0h0M295.8 849.5h0M297.4 849.4h0M302.8 849.3h0M318.4 849.0h0M327.4 849.1h0M334.3 848.8h0M341.9 849.1h0M346.7 849.5h0M348.9 849.1h0M354.8 849.1h0M374.6 849.2h0M382.5 849.0h0M389.3 848.8h0M396.9 849.0h0M424.4 848.7h0M428.8 848.6h0M430.2 848.6h0M447.5 849.4h0M718.7 849.4h0M730.2 849.4h0M301.7 850.2h0M308.0 850.1h0M331.6 849.6h0M336.6 850.0h0M343.5 850.5h0M350.7 850.0h0M352.7 849.6h0M370.7 849.5h0M390.5 850.1h0M425.2 850.0h0M441.0 849.7h0M444.0 850.2h0M462.5 850.0h0M701.9 849.6h0M705.4 849.8h0M709.2 849.5h0M710.9 850.5h0M299.3 850.7h0M303.0 851.0h0M340.5 851.2h0M367.2 851.2h0M430.9 851.2h0M440.1 851.5h0M448.2 851.2h0M451.9 851.3h0M454.9 851.4h0M455.9 850.6h0M693.3 851.1h0M700.1 851.0h0M720.9 851.4h0M724.1 850.9h0M730.1 850.6h0M298.7 852.0h0M389.9 852.3h0M427.1 852.1h0M694.5 851.9h0M730.8 851.7h0M295.6 852.8h0M308.5 852.8h0M310.7 853.0h0M313.0 852.6h0M315.0 853.4h0M327.0 853.5h0M340.5 852.5h0M374.0 852.9h0M378.4 853.4h0M385.0 853.2h0M391.9 853.2h0M433.6 853.1h0M440.9 852.7h0M442.1 853.1h0M459.1 852.9h0M468.8 853.1h0M692.3 853.4h0M694.5 853.3h0M697.2 852.6h0M702.0 852.9h0M705.4 853.3h0M714.5 853.3h0M726.5 852.8h0M728.2 853.2h0M308.7 854.3h0M320.4 854.3h0M328.6 854.2h0M340.6 854.4h0M369.8 854.1h0M375.5 853.7h0M380.9 854.3h0M410.4 854.2h0M442.8 854.1h0M451.3 854.3h0M364.5 854.6h0M376.0 855.1h0M378.4 855.1h0M420.8 855.2h0M429.9 854.6h0M438.8 855.1h0M454.4 855.0h0M457.4 855.1h0M461.8 854.7h0M463.5 854.6h0M694.9 855.1h0M301.2 855.9h0M303.4 856.3h0M305.8 855.7h0M308.3 855.9h0M332.5 856.0h0M365.6 856.4h0M382.0 856.1h0M442.5 856.3h0M450.8 856.3h0M466.2 855.7h0M697.4 855.5h0M700.4 856.2h0M706.1 856.2h0M710.5 856.1h0M714.5 856.2h0M717.7 855.6h0M719.2 855.7h0M724.7 856.3h0M368.0 857.2h0M433.6 856.8h0M448.4 856.9h0M702.3 857.0h0M708.7 856.7h0M718.9 856.9h0M305.2 857.9h0M327.5 858.0h0M330.2 857.9h0M331.7 857.8h0M333.4 858.1h0M363.7 857.8h0M369.9 858.5h0M371.0 857.7h0M379.0 858.2h0M385.5 857.5h0M389.4 858.4h0M391.7 857.8h0M429.2 858.3h0M438.0 857.8h0M440.1 858.1h0M443.9 858.0h0M468.1 857.8h0M606.2 858.0h0M309.7 859.0h0M314.1 859.3h0M363.3 859.0h0M368.8 859.0h0M456.8 859.4h0M311.0 859.7h0M373.0 859.7h0M378.5 860.2h0M390.0 859.7h0M404.2 860.4h0M416.7 860.4h0M432.8 859.9h0M439.8 859.7h0M442.1 860.4h0M315.5 861.4h0M325.1 861.2h0M362.8 860.7h0M442.8 861.4h0M449.5 860.5h0M453.7 860.7h0M317.5 862.1h0M327.6 861.8h0M362.2 861.9h0M369.2 861.5h0M370.7 862.3h0M382.0 862.1h0M383.8 862.4h0M391.5 862.3h0M431.7 861.6h0M455.9 862.0h0M321.5 862.6h0M326.2 862.6h0M363.3 863.4h0M365.6 863.4h0M431.5 863.4h0M435.3 862.7h0M442.7 863.2h0M452.4 863.1h0M471.0 862.8h0M473.0 862.8h0M364.5 864.3h0M368.9 864.0h0M378.1 864.3h0M381.6 863.9h0M385.6 863.5h0M387.9 864.4h0M433.9 863.7h0M439.9 863.9h0M441.6 863.9h0M460.7 863.8h0M476.1 863.5h0M370.2 865.3h0M373.5 865.2h0M375.4 865.2h0M382.9 865.5h0M389.3 864.6h0M431.1 864.7h0M436.3 865.0h0M448.0 865.1h0M363.7 865.6h0M368.6 866.0h0M381.4 866.3h0M430.1 866.3h0M452.2 866.5h0M469.2 866.5h0M475.2 865.9h0M478.2 866.4h0M337.5 866.7h0M366.3 867.0h0M368.6 867.3h0M370.7 866.7h0M371.9 866.5h0M375.9 867.0h0M377.6 867.3h0M384.6 867.4h0M437.0 866.6h0M350.0 867.7h0M365.2 868.4h0M436.2 868.3h0M364.3 869.3h0M373.3 868.6h0M389.8 868.6h0M433.7 869.5h0M471.2 868.6h0M473.1 869.2h0M475.5 869.1h0M354.2 869.8h0M442.7 870.4h0M447.5 870.0h0M367.6 870.9h0M369.0 870.8h0M374.0 871.0h0M483.6 870.6h0M369.3 872.4h0M376.9 871.9h0M382.0 871.8h0M384.4 871.9h0M386.0 871.5h0M476.4 871.5h0M489.4 871.7h0M374.1 872.6h0M375.6 872.8h0M493.0 873.2h0M481.6 874.2h0M492.2 874.2h0M494.4 874.3h0M484.7 874.9h0M610.7 875.1h0M613.7 875.5h0M481.3 876.4h0M494.8 876.1h0M496.9 876.2h0M500.1 876.1h0M501.9 876.0h0M490.2 876.6h0M503.6 877.1h0M495.2 877.6h0M507.4 878.0h0M487.7 878.6h0M492.1 879.2h0M615.5 878.9h0M503.9 879.8h0M617.1 880.6h0M495.9 882.1h0M500.2 881.8h0M492.7 882.6h0M501.2 882.8h0M617.5 882.8h0M498.1 883.6h0M618.7 884.9h0M492.7 887.5h0M619.2 887.7h0M621.5 889.1h0M623.1 891.3h0M624.3 892.9h0M625.2 895.1h0M626.7 897.2h0M627.8 900.0h0M628.8 902.8h0M621.3 903.7h0M630.0 906.6h0M628.9 908.2h0M627.4 910.3h0M625.9 911.1h0M645.0 912.5h0M641.7 914.2h0M627.3 914.6h0M648.3 915.8h0M644.2 916.7h0M504.0 918.0h0M626.7 918.2h0M657.5 919.2h0M622.3 919.6h0M624.2 919.5h0M659.2 920.3h0M620.1 920.6h0M618.7 922.4h0M502.7 923.3h0M619.0 925.2h0M622.4 925.8h0M673.3 925.5h0M694.2 933.8h0M694.7 935.4h0M695.9 934.6h0M697.8 935.5h0M700.8 934.9h0M706.0 935.3h0M699.2 935.8h0M701.8 936.1h0M703.2 936.1h0M704.9 936.1h0M708.5 935.7h0M697.9 936.9h0M700.4 936.8h0M704.7 937.4h0M707.7 938.1h0M710.6 937.6h0M714.4 939.3h0M712.2 939.9h0M704.7 940.5h0M706.9 941.4h0M709.6 941.0h0M710.9 940.9h0M715.5 940.8h0M714.4 942.0h0M708.0 944.1h0M708.7 945.5h0M706.3 945.5h0M708.6 946.9h0M706.8 947.7h0M512.4 970.7h0M512.6 974.0h0M513.6 977.1h0M515.8 978.2h0M516.8 980.3h0M516.3 984.2h0M652.4 984.7h0M515.8 986.9h0M516.6 990.4h0M518.3 992.3h0M521.6 991.8h0M525.1 992.3h0M528.5 991.6h0M526.1 994.3h0M525.5 997.9h0M528.5 998.3h0M524.5 999.6h0M526.0 999.6h0M528.3 1000.3h0M525.9 1000.9h0M524.0 1002.0h0M528.3 1002.0h0M516.7 1003.3h0M525.2 1002.6h0M527.0 1003.3h0M527.9 1004.1h0M523.0 1004.8h0M526.0 1004.8h0M524.4 1007.0h0M522.5 1008.1h0M525.5 1008.4h0M521.0 1010.5h0M523.0 1010.2h0M525.1 1010.3h0M519.3 1011.6h0M521.2 1011.7h0M524.2 1013.5h0M514.9 1013.7h0M513.9 1014.9h0M518.0 1014.7h0M520.3 1014.7h0M522.3 1014.6h0M524.6 1014.8h0M510.0 1016.1h0M512.9 1015.8h0M518.0 1016.1h0M520.1 1016.0h0M511.7 1017.2h0M508.9 1018.8h0M510.6 1018.8h0M512.1 1019.2h0M436.7 1041.3h0M432.0 1043.3h0" stroke="#d3d3d3" stroke-width="5.4" stroke-linecap="round" fill="none"/>
<circle cx="340.6" cy="763.1" r="2.75" fill="#8b5cf2"/><circle cx="338.5" cy="822.5" r="2.75" fill="#8b5cf2"/><circle cx="347.6" cy="823.6" r="2.75" fill="#8b5cf2"/><circle cx="350.5" cy="835.5" r="2.75" fill="#8b5cf2"/><circle cx="376.8" cy="822.6" r="2.75" fill="#8b5cf2"/><circle cx="414.1" cy="824.4" r="2.75" fill="#8b5cf2"/><circle cx="381.2" cy="842.5" r="2.75" fill="#8b5cf2"/><circle cx="392.1" cy="841.9" r="2.75" fill="#0000f2"/><circle cx="408.9" cy="841.6" r="2.75" fill="#8b5cf2"/><circle cx="331.2" cy="864.0" r="2.75" fill="#8b5cf2"/><circle cx="428.7" cy="866.3" r="2.75" fill="#8b5cf2"/><circle cx="450.0" cy="863.5" r="2.75" fill="#8b5cf2"/><circle cx="671.0" cy="734.1" r="2.75" fill="#8b5cf2"/><circle cx="623.8" cy="892.8" r="2.75" fill="#8b5cf2"/><circle cx="630.8" cy="914.5" r="2.75" fill="#8b5cf2"/><circle cx="621.7" cy="924.2" r="2.75" fill="#8b5cf2"/><circle cx="649.0" cy="981.3" r="2.75" fill="#8b5cf2"/>
<g stroke="#000" stroke-width="2.85" stroke-linecap="square">
<line x1="95.4" y1="52.3" x2="95.4" y2="1119.45"/>
<line x1="95.4" y1="1119.45" x2="1102.5" y2="1119.45"/>
</g>
<g stroke="#000" stroke-width="2.85" stroke-linecap="butt"><line x1="141.30" y1="1119.45" x2="141.30" y2="1124.70"/><line x1="304.70" y1="1119.45" x2="304.70" y2="1124.70"/><line x1="468.10" y1="1119.45" x2="468.10" y2="1124.70"/><line x1="631.50" y1="1119.45" x2="631.50" y2="1124.70"/><line x1="794.90" y1="1119.45" x2="794.90" y2="1124.70"/><line x1="958.30" y1="1119.45" x2="958.30" y2="1124.70"/><line x1="90.20" y1="277.50" x2="95.40" y2="277.50"/><line x1="90.20" y1="571.50" x2="95.40" y2="571.50"/><line x1="90.20" y1="865.50" x2="95.40" y2="865.50"/></g>
<text x="598.9" y="36.6" text-anchor="middle" font-weight="bold" font-size="34.5">Itih3</text>
<g font-size="30" text-anchor="middle"><text x="141.30" y="1147.6">-15</text><text x="304.70" y="1147.6">-10</text><text x="468.10" y="1147.6">-5</text><text x="631.50" y="1147.6">0</text><text x="794.90" y="1147.6">5</text><text x="958.30" y="1147.6">10</text></g>
<g font-size="30" text-anchor="end"><text x="88.4" y="288.00">10</text><text x="88.4" y="582.00">0</text><text x="88.4" y="876.00">-10</text></g>
<text x="597.6" y="1181.2" text-anchor="middle" font-size="30.5">umapNC_1</text>
<text transform="translate(34.2 585.9) rotate(-90)" text-anchor="middle" font-size="30.5">umapNC_2</text>
<defs><linearGradient id="cb" x1="0" y1="1" x2="0" y2="0"><stop offset="0.000" stop-color="#d3d3d3"/><stop offset="0.050" stop-color="#cfcad6"/><stop offset="0.100" stop-color="#cac0d9"/><stop offset="0.150" stop-color="#c6b7db"/><stop offset="0.200" stop-color="#c1aede"/><stop offset="0.250" stop-color="#bba5e0"/><stop offset="0.300" stop-color="#b69ce3"/><stop offset="0.350" stop-color="#b093e5"/><stop offset="0.400" stop-color="#aa89e7"/><stop offset="0.450" stop-color="#a480ea"/><stop offset="0.500" stop-color="#9d77ec"/><stop offset="0.550" stop-color="#966eee"/><stop offset="0.600" stop-color="#8e65f0"/><stop offset="0.650" stop-color="#855bf2"/><stop offset="0.700" stop-color="#7c51f4"/><stop offset="0.750" stop-color="#7248f6"/><stop offset="0.800" stop-color="#673df8"/><stop offset="0.850" stop-color="#5932fa"/><stop offset="0.900" stop-color="#4926fb"/><stop offset="0.950" stop-color="#3318fd"/><stop offset="1.000" stop-color="#0000ff"/></linearGradient></defs><rect x="1116" y="547.40" width="15.7" height="76.85" fill="url(#cb)"/><g stroke="#fff" stroke-width="1" stroke-opacity="0.9"><line x1="1116" y1="606.75" x2="1119.4" y2="606.75"/><line x1="1128.3" y1="606.75" x2="1131.7" y2="606.75"/><line x1="1116" y1="589.25" x2="1119.4" y2="589.25"/><line x1="1128.3" y1="589.25" x2="1131.7" y2="589.25"/><line x1="1116" y1="571.76" x2="1119.4" y2="571.76"/><line x1="1128.3" y1="571.76" x2="1131.7" y2="571.76"/><line x1="1116" y1="554.26" x2="1119.4" y2="554.26"/><line x1="1128.3" y1="554.26" x2="1131.7" y2="554.26"/></g><g font-size="25.6"><text x="1139" y="563.56">1.00</text><text x="1139" y="581.06">0.75</text><text x="1139" y="598.55">0.50</text><text x="1139" y="616.05">0.25</text><text x="1139" y="633.55">0.00</text></g>
</svg>
</body></html>
